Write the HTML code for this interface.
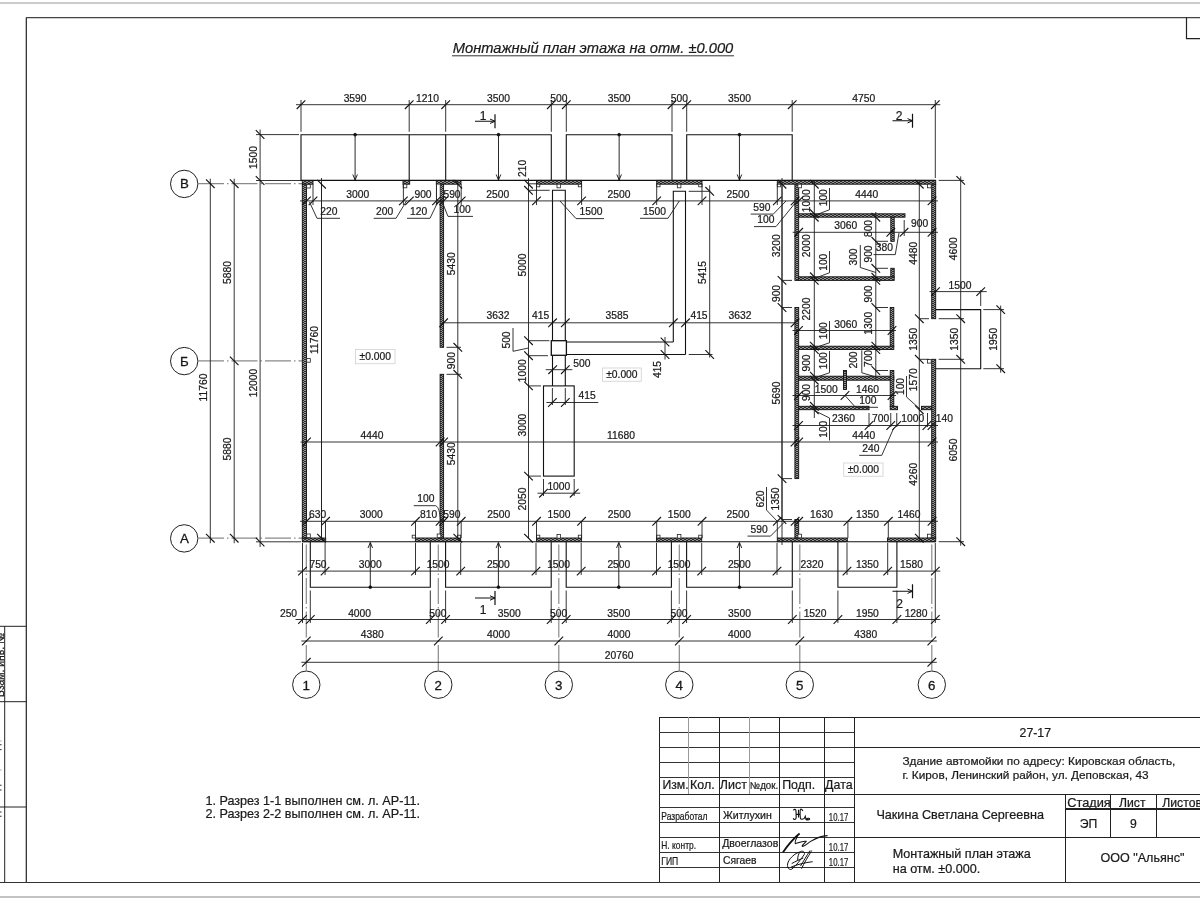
<!DOCTYPE html>
<html><head><meta charset="utf-8"><style>
html,body{margin:0;padding:0;background:#fff;}
svg{display:block;font-family:"Liberation Sans",sans-serif;will-change:transform;}
</style></head><body>
<svg width="1200" height="900" viewBox="0 0 1200 900">
<defs>
<pattern id="hat" width="4" height="2" patternUnits="userSpaceOnUse"><rect width="4" height="2" fill="#2a2a2a"/><rect x="0.5" y="0" width="1" height="1" fill="#fff"/><rect x="2.5" y="1" width="1" height="1" fill="#fff"/></pattern>
</defs>
<rect width="1200" height="900" fill="#fff"/>
<line x1="0.00" y1="3.00" x2="1200.00" y2="3.00" stroke="#999" stroke-width="1.2" />
<line x1="0.00" y1="897.00" x2="1200.00" y2="897.00" stroke="#888" stroke-width="1.1" />
<line x1="26.30" y1="17.70" x2="1200.00" y2="17.70" stroke="#444" stroke-width="1.3" />
<line x1="26.30" y1="17.50" x2="26.30" y2="882.50" stroke="#222" stroke-width="1.2" />
<line x1="0.00" y1="882.50" x2="1200.00" y2="882.50" stroke="#333" stroke-width="1.2" />
<polyline points="1186.50,17.50 1186.50,38.70 1200.00,38.70" stroke="#222" stroke-width="1.2" fill="none" />
<line x1="4.70" y1="626.30" x2="4.70" y2="882.50" stroke="#222" stroke-width="1" />
<line x1="0.00" y1="626.30" x2="26.30" y2="626.30" stroke="#222" stroke-width="1" />
<line x1="0.00" y1="701.70" x2="26.30" y2="701.70" stroke="#222" stroke-width="1" />
<line x1="0.00" y1="807.00" x2="26.30" y2="807.00" stroke="#222" stroke-width="1" />
<text x="4.30" y="697.00" font-size="10.5" fill="#1a1a1a" textLength="64.00" lengthAdjust="spacingAndGlyphs" transform="rotate(-90 4.30 697.00)" stroke="#1a1a1a" stroke-width="0.22">Взам. инв. №</text>
<rect x="0.00" y="740.40" width="1.60" height="1.20" stroke="none" stroke-width="0" fill="#bbb" />
<rect x="0.00" y="744.10" width="1.60" height="1.20" stroke="none" stroke-width="0" fill="#555" />
<rect x="0.00" y="749.00" width="1.60" height="1.20" stroke="none" stroke-width="0" fill="#555" />
<rect x="0.00" y="769.40" width="1.60" height="1.20" stroke="none" stroke-width="0" fill="#bbb" />
<rect x="0.00" y="784.70" width="1.60" height="1.20" stroke="none" stroke-width="0" fill="#555" />
<rect x="0.00" y="789.40" width="1.60" height="1.20" stroke="none" stroke-width="0" fill="#555" />
<rect x="0.00" y="811.40" width="1.60" height="1.20" stroke="none" stroke-width="0" fill="#555" />
<rect x="0.00" y="815.70" width="1.60" height="1.20" stroke="none" stroke-width="0" fill="#555" />
<g shape-rendering="crispEdges">
<line x1="659.10" y1="717.10" x2="1200.00" y2="717.10" stroke="#222" stroke-width="1.2" />
<line x1="659.10" y1="717.10" x2="659.10" y2="882.30" stroke="#222" stroke-width="1.2" />
<line x1="659.10" y1="732.20" x2="854.40" y2="732.20" stroke="#333" stroke-width="1.1" />
<line x1="659.10" y1="747.30" x2="854.40" y2="747.30" stroke="#333" stroke-width="1.1" />
<line x1="659.10" y1="762.40" x2="854.40" y2="762.40" stroke="#333" stroke-width="1.1" />
<line x1="659.10" y1="777.60" x2="854.40" y2="777.60" stroke="#333" stroke-width="1.1" />
<line x1="659.10" y1="794.30" x2="854.40" y2="794.30" stroke="#222" stroke-width="1.2" />
<line x1="659.10" y1="807.40" x2="854.40" y2="807.40" stroke="#333" stroke-width="1.1" />
<line x1="659.10" y1="822.20" x2="854.40" y2="822.20" stroke="#333" stroke-width="1.1" />
<line x1="659.10" y1="837.60" x2="854.40" y2="837.60" stroke="#333" stroke-width="1.1" />
<line x1="659.10" y1="852.40" x2="854.40" y2="852.40" stroke="#333" stroke-width="1.1" />
<line x1="659.10" y1="867.40" x2="854.40" y2="867.40" stroke="#333" stroke-width="1.1" />
<line x1="688.80" y1="717.10" x2="688.80" y2="794.30" stroke="#999" stroke-width="1.1" />
<line x1="749.70" y1="717.10" x2="749.70" y2="794.30" stroke="#999" stroke-width="1.1" />
<line x1="719.40" y1="717.10" x2="719.40" y2="882.30" stroke="#222" stroke-width="1.2" />
<line x1="779.60" y1="717.10" x2="779.60" y2="882.30" stroke="#222" stroke-width="1.2" />
<line x1="824.50" y1="717.10" x2="824.50" y2="882.30" stroke="#222" stroke-width="1.2" />
<line x1="854.40" y1="717.10" x2="854.40" y2="882.30" stroke="#222" stroke-width="1.2" />
<line x1="854.40" y1="747.30" x2="1200.00" y2="747.30" stroke="#222" stroke-width="1.2" />
<line x1="854.40" y1="794.30" x2="1200.00" y2="794.30" stroke="#222" stroke-width="1.2" />
<line x1="854.40" y1="837.60" x2="1200.00" y2="837.60" stroke="#222" stroke-width="1.2" />
<line x1="1065.60" y1="794.30" x2="1065.60" y2="882.30" stroke="#222" stroke-width="1.2" />
<line x1="1110.70" y1="794.30" x2="1110.70" y2="837.60" stroke="#222" stroke-width="1.2" />
<line x1="1156.20" y1="794.30" x2="1156.20" y2="837.60" stroke="#222" stroke-width="1.2" />
<line x1="1065.60" y1="809.00" x2="1200.00" y2="809.00" stroke="#222" stroke-width="1.2" />
</g>
<text x="662.40" y="789.10" font-size="12.2" fill="#1a1a1a" textLength="26.20" lengthAdjust="spacingAndGlyphs" stroke="#1a1a1a" stroke-width="0.22">Изм.</text>
<text x="690.00" y="789.10" font-size="12.2" fill="#1a1a1a" textLength="24.60" lengthAdjust="spacingAndGlyphs" stroke="#1a1a1a" stroke-width="0.22">Кол.</text>
<text x="719.80" y="789.10" font-size="12.2" fill="#1a1a1a" textLength="27.10" lengthAdjust="spacingAndGlyphs" stroke="#1a1a1a" stroke-width="0.22">Лист</text>
<text x="749.70" y="789.10" font-size="10" fill="#1a1a1a" textLength="28.60" lengthAdjust="spacingAndGlyphs" stroke="#1a1a1a" stroke-width="0.22">№док.</text>
<text x="782.20" y="789.10" font-size="12.2" fill="#1a1a1a" textLength="32.90" lengthAdjust="spacingAndGlyphs" stroke="#1a1a1a" stroke-width="0.22">Подп.</text>
<text x="825.10" y="789.10" font-size="12.2" fill="#1a1a1a" textLength="27.50" lengthAdjust="spacingAndGlyphs" stroke="#1a1a1a" stroke-width="0.22">Дата</text>
<text x="661.30" y="820.20" font-size="10.6" fill="#1a1a1a" textLength="46.10" lengthAdjust="spacingAndGlyphs" stroke="#1a1a1a" stroke-width="0.22">Разработал</text>
<text x="723.00" y="819.20" font-size="10.6" fill="#1a1a1a" textLength="48.80" lengthAdjust="spacingAndGlyphs" stroke="#1a1a1a" stroke-width="0.22">Житлухин</text>
<text x="828.80" y="820.70" font-size="11.2" fill="#1a1a1a" textLength="19.50" lengthAdjust="spacingAndGlyphs" stroke="#1a1a1a" stroke-width="0.22">10.17</text>
<text x="661.30" y="849.00" font-size="10.6" fill="#1a1a1a" textLength="34.70" lengthAdjust="spacingAndGlyphs" stroke="#1a1a1a" stroke-width="0.22">Н. контр.</text>
<text x="722.20" y="847.00" font-size="10.6" fill="#1a1a1a" textLength="56.10" lengthAdjust="spacingAndGlyphs" stroke="#1a1a1a" stroke-width="0.22">Двоеглазов</text>
<text x="828.80" y="850.60" font-size="11.2" fill="#1a1a1a" textLength="19.50" lengthAdjust="spacingAndGlyphs" stroke="#1a1a1a" stroke-width="0.22">10.17</text>
<text x="661.30" y="865.20" font-size="10.6" fill="#1a1a1a" textLength="16.90" lengthAdjust="spacingAndGlyphs" stroke="#1a1a1a" stroke-width="0.22">ГИП</text>
<text x="723.00" y="864.20" font-size="10.6" fill="#1a1a1a" textLength="33.60" lengthAdjust="spacingAndGlyphs" stroke="#1a1a1a" stroke-width="0.22">Сягаев</text>
<text x="828.80" y="865.60" font-size="11.2" fill="#1a1a1a" textLength="19.50" lengthAdjust="spacingAndGlyphs" stroke="#1a1a1a" stroke-width="0.22">10.17</text>
<text x="1035.30" y="736.80" font-size="12.3" fill="#1a1a1a" text-anchor="middle" stroke="#1a1a1a" stroke-width="0.22">27-17</text>
<text x="902.40" y="764.60" font-size="11.8" fill="#1a1a1a" textLength="273.00" lengthAdjust="spacingAndGlyphs" stroke="#1a1a1a" stroke-width="0.22">Здание автомойки по адресу: Кировская область,</text>
<text x="902.40" y="778.70" font-size="11.8" fill="#1a1a1a" stroke="#1a1a1a" stroke-width="0.22">г. Киров, Ленинский район, ул. Деповская, 43</text>
<text x="876.40" y="819.20" font-size="12.6" fill="#1a1a1a" textLength="167.60" lengthAdjust="spacingAndGlyphs" stroke="#1a1a1a" stroke-width="0.22">Чакина Светлана Сергеевна</text>
<text x="892.70" y="857.80" font-size="12.6" fill="#1a1a1a" stroke="#1a1a1a" stroke-width="0.22">Монтажный план этажа</text>
<text x="892.70" y="873.00" font-size="12.6" fill="#1a1a1a" stroke="#1a1a1a" stroke-width="0.22">на отм. ±0.000.</text>
<text x="1067.30" y="806.90" font-size="12.2" fill="#1a1a1a" textLength="43.40" lengthAdjust="spacingAndGlyphs" stroke="#1a1a1a" stroke-width="0.22">Стадия</text>
<text x="1119.00" y="806.90" font-size="12.2" fill="#1a1a1a" stroke="#1a1a1a" stroke-width="0.22">Лист</text>
<text x="1162.30" y="806.90" font-size="12.2" fill="#1a1a1a" stroke="#1a1a1a" stroke-width="0.22">Листов</text>
<text x="1088.60" y="827.50" font-size="12.2" fill="#1a1a1a" text-anchor="middle" stroke="#1a1a1a" stroke-width="0.22">ЭП</text>
<text x="1133.50" y="827.50" font-size="12.2" fill="#1a1a1a" text-anchor="middle" stroke="#1a1a1a" stroke-width="0.22">9</text>
<text x="1100.50" y="862.20" font-size="12.6" fill="#1a1a1a" textLength="83.90" lengthAdjust="spacingAndGlyphs" stroke="#1a1a1a" stroke-width="0.22">ООО &quot;Альянс&quot;</text>
<path d="M793.4,810.4 C794,809 795.8,809 796,810.8 L796.2,817.6 C796.2,819.6 794,820.2 793.2,818.2 M798.5,809.7 L798.5,817.4 M796.2,814.4 L800.6,814.4 M802.7,811.1 C802.8,809.5 801,808.8 800.4,809.4 C800,810 800.1,812 800.1,815.3 L800.4,818.1 C800.8,819.6 802.5,819.6 804.3,818.4 L805.3,816.3 L806,819.5 C807,820.2 809.8,820 809.6,818.8 C809.3,818 807,818.2 805.7,819.8" stroke="#111" stroke-width="1.1" fill="none"/>
<path d="M783,852.2 C788,845 794,838 799.6,833.5" stroke="#111" stroke-width="1.8" fill="none"/>
<path d="M797.5,836 C796,839 794.5,843 795.5,843.6 C797,843.5 803,840.5 806.1,841.4 C805,843 801,846 802.5,846.4 C805,846.5 808,842.5 812.7,840.3 C816,838.2 821,836.2 827.6,835.6" stroke="#111" stroke-width="1.1" fill="none"/>
<path d="M800.1,851.9 C795,853 788.5,859 787.6,864 C787,868.5 790,870.5 792,869 C796,866 801,859 804.3,854.5 C805,852 803,850.5 800.5,851.5 C798.5,853 797.5,857 797.7,860.5 M811.7,850.5 C808,857 804,863 801.5,868.7 M810,850.5 C806.5,856 803,862 800.5,866 M790.7,867.3 C797,864.5 805,862.5 812.7,861.7 M791.7,863.6 C795,861.5 800,859.5 803.3,858" stroke="#111" stroke-width="1" fill="none"/>
<text x="205.40" y="805.00" font-size="12.6" fill="#1a1a1a" textLength="214.60" lengthAdjust="spacingAndGlyphs" stroke="#1a1a1a" stroke-width="0.22">1. Разрез 1-1 выполнен см. л. АР-11.</text>
<text x="205.40" y="818.00" font-size="12.6" fill="#1a1a1a" textLength="214.60" lengthAdjust="spacingAndGlyphs" stroke="#1a1a1a" stroke-width="0.22">2. Разрез 2-2 выполнен см. л. АР-11.</text>
<text x="452.70" y="52.70" font-size="14.7" fill="#1a1a1a" textLength="280.60" lengthAdjust="spacingAndGlyphs" font-style="italic" stroke="#1a1a1a" stroke-width="0.2">Монтажный план этажа на отм. ±0.000</text>
<line x1="452.00" y1="55.80" x2="734.00" y2="55.80" stroke="#333" stroke-width="1" />
<circle cx="306.30" cy="684.70" r="13.70" stroke="#222" stroke-width="1.0" fill="#fff"/>
<text x="306.30" y="689.60" font-size="13.3" fill="#1a1a1a" text-anchor="middle" stroke="#111" stroke-width="0.3">1</text>
<line x1="306.30" y1="671.00" x2="306.30" y2="542.00" stroke="#8a8a8a" stroke-width="1.2" stroke-dasharray="26 3 1.5 3"/>
<circle cx="438.30" cy="684.70" r="13.70" stroke="#222" stroke-width="1.0" fill="#fff"/>
<text x="438.30" y="689.60" font-size="13.3" fill="#1a1a1a" text-anchor="middle" stroke="#111" stroke-width="0.3">2</text>
<line x1="438.30" y1="671.00" x2="438.30" y2="542.00" stroke="#8a8a8a" stroke-width="1.2" stroke-dasharray="26 3 1.5 3"/>
<circle cx="558.80" cy="684.70" r="13.70" stroke="#222" stroke-width="1.0" fill="#fff"/>
<text x="558.80" y="689.60" font-size="13.3" fill="#1a1a1a" text-anchor="middle" stroke="#111" stroke-width="0.3">3</text>
<line x1="558.80" y1="671.00" x2="558.80" y2="542.00" stroke="#8a8a8a" stroke-width="1.2" stroke-dasharray="26 3 1.5 3"/>
<circle cx="679.30" cy="684.70" r="13.70" stroke="#222" stroke-width="1.0" fill="#fff"/>
<text x="679.30" y="689.60" font-size="13.3" fill="#1a1a1a" text-anchor="middle" stroke="#111" stroke-width="0.3">4</text>
<line x1="679.30" y1="671.00" x2="679.30" y2="542.00" stroke="#8a8a8a" stroke-width="1.2" stroke-dasharray="26 3 1.5 3"/>
<circle cx="799.80" cy="684.70" r="13.70" stroke="#222" stroke-width="1.0" fill="#fff"/>
<text x="799.80" y="689.60" font-size="13.3" fill="#1a1a1a" text-anchor="middle" stroke="#111" stroke-width="0.3">5</text>
<line x1="799.80" y1="671.00" x2="799.80" y2="542.00" stroke="#8a8a8a" stroke-width="1.2" stroke-dasharray="26 3 1.5 3"/>
<circle cx="931.80" cy="684.70" r="13.70" stroke="#222" stroke-width="1.0" fill="#fff"/>
<text x="931.80" y="689.60" font-size="13.3" fill="#1a1a1a" text-anchor="middle" stroke="#111" stroke-width="0.3">6</text>
<line x1="931.80" y1="671.00" x2="931.80" y2="542.00" stroke="#8a8a8a" stroke-width="1.2" stroke-dasharray="26 3 1.5 3"/>
<circle cx="184.20" cy="183.90" r="13.70" stroke="#222" stroke-width="1.0" fill="#fff"/>
<text x="184.40" y="188.30" font-size="13.3" fill="#1a1a1a" text-anchor="middle" stroke="#111" stroke-width="0.3">В</text>
<line x1="198.00" y1="183.70" x2="302.00" y2="183.70" stroke="#8a8a8a" stroke-width="1.2" stroke-dasharray="26 3 1.5 3"/>
<circle cx="184.20" cy="361.10" r="13.70" stroke="#222" stroke-width="1.0" fill="#fff"/>
<text x="184.40" y="365.50" font-size="13.3" fill="#1a1a1a" text-anchor="middle" stroke="#111" stroke-width="0.3">Б</text>
<line x1="198.00" y1="360.90" x2="302.00" y2="360.90" stroke="#8a8a8a" stroke-width="1.2" stroke-dasharray="26 3 1.5 3"/>
<circle cx="184.20" cy="538.40" r="13.70" stroke="#222" stroke-width="1.0" fill="#fff"/>
<text x="184.40" y="542.80" font-size="13.3" fill="#1a1a1a" text-anchor="middle" stroke="#111" stroke-width="0.3">А</text>
<line x1="198.00" y1="538.20" x2="302.00" y2="538.20" stroke="#8a8a8a" stroke-width="1.2" stroke-dasharray="26 3 1.5 3"/>
<line x1="210.30" y1="178.70" x2="210.30" y2="543.20" stroke="#1e1e1e" stroke-width="0.9" />
<line x1="206.00" y1="179.40" x2="214.60" y2="188.00" stroke="#111" stroke-width="1.1" />
<line x1="206.00" y1="533.90" x2="214.60" y2="542.50" stroke="#111" stroke-width="1.1" />
<text x="207.46" y="387.50" font-size="10.3" fill="#1a1a1a" text-anchor="middle" transform="rotate(-90 207.46 387.50)" stroke="#1a1a1a" stroke-width="0.22">11760</text>
<line x1="234.20" y1="178.70" x2="234.20" y2="543.20" stroke="#1e1e1e" stroke-width="0.9" />
<line x1="229.90" y1="179.40" x2="238.50" y2="188.00" stroke="#111" stroke-width="1.1" />
<line x1="229.90" y1="356.60" x2="238.50" y2="365.20" stroke="#111" stroke-width="1.1" />
<line x1="229.90" y1="533.90" x2="238.50" y2="542.50" stroke="#111" stroke-width="1.1" />
<text x="231.21" y="272.50" font-size="10.3" fill="#1a1a1a" text-anchor="middle" transform="rotate(-90 231.21 272.50)" stroke="#1a1a1a" stroke-width="0.22">5880</text>
<text x="231.21" y="449.00" font-size="10.3" fill="#1a1a1a" text-anchor="middle" transform="rotate(-90 231.21 449.00)" stroke="#1a1a1a" stroke-width="0.22">5880</text>
<line x1="260.10" y1="129.50" x2="260.10" y2="547.00" stroke="#1e1e1e" stroke-width="0.9" />
<line x1="255.80" y1="130.20" x2="264.40" y2="138.80" stroke="#111" stroke-width="1.1" />
<line x1="255.80" y1="176.20" x2="264.40" y2="184.80" stroke="#111" stroke-width="1.1" />
<line x1="255.80" y1="537.70" x2="264.40" y2="546.30" stroke="#111" stroke-width="1.1" />
<text x="257.46" y="157.50" font-size="10.3" fill="#1a1a1a" text-anchor="middle" transform="rotate(-90 257.46 157.50)" stroke="#1a1a1a" stroke-width="0.22">1500</text>
<text x="256.91" y="383.00" font-size="10.3" fill="#1a1a1a" text-anchor="middle" transform="rotate(-90 256.91 383.00)" stroke="#1a1a1a" stroke-width="0.22">12000</text>
<line x1="256.00" y1="134.60" x2="299.00" y2="134.60" stroke="#1e1e1e" stroke-width="0.9" />
<line x1="256.00" y1="180.50" x2="301.00" y2="180.50" stroke="#1e1e1e" stroke-width="0.9" />
<line x1="256.00" y1="541.80" x2="301.00" y2="541.80" stroke="#1e1e1e" stroke-width="0.9" />
<line x1="296.00" y1="104.70" x2="940.30" y2="104.70" stroke="#1e1e1e" stroke-width="0.9" />
<line x1="296.70" y1="109.00" x2="305.30" y2="100.40" stroke="#111" stroke-width="1.1" />
<line x1="404.90" y1="109.00" x2="413.50" y2="100.40" stroke="#111" stroke-width="1.1" />
<line x1="441.40" y1="109.00" x2="450.00" y2="100.40" stroke="#111" stroke-width="1.1" />
<line x1="547.00" y1="109.00" x2="555.60" y2="100.40" stroke="#111" stroke-width="1.1" />
<line x1="562.00" y1="109.00" x2="570.60" y2="100.40" stroke="#111" stroke-width="1.1" />
<line x1="667.70" y1="109.00" x2="676.30" y2="100.40" stroke="#111" stroke-width="1.1" />
<line x1="682.40" y1="109.00" x2="691.00" y2="100.40" stroke="#111" stroke-width="1.1" />
<line x1="787.90" y1="109.00" x2="796.50" y2="100.40" stroke="#111" stroke-width="1.1" />
<line x1="931.00" y1="109.00" x2="939.60" y2="100.40" stroke="#111" stroke-width="1.1" />
<text x="355.10" y="101.70" font-size="10.3" fill="#1a1a1a" text-anchor="middle" stroke="#1a1a1a" stroke-width="0.22">3590</text>
<text x="427.45" y="101.70" font-size="10.3" fill="#1a1a1a" text-anchor="middle" stroke="#1a1a1a" stroke-width="0.22">1210</text>
<text x="498.50" y="101.70" font-size="10.3" fill="#1a1a1a" text-anchor="middle" stroke="#1a1a1a" stroke-width="0.22">3500</text>
<text x="558.80" y="101.70" font-size="10.3" fill="#1a1a1a" text-anchor="middle" stroke="#1a1a1a" stroke-width="0.22">500</text>
<text x="619.15" y="101.70" font-size="10.3" fill="#1a1a1a" text-anchor="middle" stroke="#1a1a1a" stroke-width="0.22">3500</text>
<text x="679.35" y="101.70" font-size="10.3" fill="#1a1a1a" text-anchor="middle" stroke="#1a1a1a" stroke-width="0.22">500</text>
<text x="739.45" y="101.70" font-size="10.3" fill="#1a1a1a" text-anchor="middle" stroke="#1a1a1a" stroke-width="0.22">3500</text>
<text x="863.75" y="101.70" font-size="10.3" fill="#1a1a1a" text-anchor="middle" stroke="#1a1a1a" stroke-width="0.22">4750</text>
<line x1="301.00" y1="100.00" x2="301.00" y2="131.80" stroke="#1e1e1e" stroke-width="0.9" />
<line x1="409.20" y1="100.00" x2="409.20" y2="131.80" stroke="#1e1e1e" stroke-width="0.9" />
<line x1="445.70" y1="100.00" x2="445.70" y2="131.80" stroke="#1e1e1e" stroke-width="0.9" />
<line x1="551.30" y1="100.00" x2="551.30" y2="131.80" stroke="#1e1e1e" stroke-width="0.9" />
<line x1="566.30" y1="100.00" x2="566.30" y2="131.80" stroke="#1e1e1e" stroke-width="0.9" />
<line x1="672.00" y1="100.00" x2="672.00" y2="131.80" stroke="#1e1e1e" stroke-width="0.9" />
<line x1="686.70" y1="100.00" x2="686.70" y2="131.80" stroke="#1e1e1e" stroke-width="0.9" />
<line x1="792.20" y1="100.00" x2="792.20" y2="131.80" stroke="#1e1e1e" stroke-width="0.9" />
<line x1="935.30" y1="100.00" x2="935.30" y2="178.00" stroke="#1e1e1e" stroke-width="0.9" />
<polyline points="301.00,180.40 301.00,134.70 409.20,134.70 409.20,180.40" stroke="#111" stroke-width="1.1" fill="none" />
<circle cx="355.10" cy="134.70" r="1.40" stroke="#111" stroke-width="0.8" fill="#111"/>
<line x1="355.10" y1="134.70" x2="355.10" y2="180.00" stroke="#111" stroke-width="0.9" />
<polyline points="352.80,174.50 355.10,180.00 357.40,174.50" stroke="#111" stroke-width="0.9" fill="none" />
<polyline points="445.70,180.40 445.70,134.70 551.30,134.70 551.30,180.40" stroke="#111" stroke-width="1.1" fill="none" />
<circle cx="498.50" cy="134.70" r="1.40" stroke="#111" stroke-width="0.8" fill="#111"/>
<line x1="498.50" y1="134.70" x2="498.50" y2="180.00" stroke="#111" stroke-width="0.9" />
<polyline points="496.20,174.50 498.50,180.00 500.80,174.50" stroke="#111" stroke-width="0.9" fill="none" />
<polyline points="566.30,180.40 566.30,134.70 672.00,134.70 672.00,180.40" stroke="#111" stroke-width="1.1" fill="none" />
<circle cx="619.15" cy="134.70" r="1.40" stroke="#111" stroke-width="0.8" fill="#111"/>
<line x1="619.15" y1="134.70" x2="619.15" y2="180.00" stroke="#111" stroke-width="0.9" />
<polyline points="616.85,174.50 619.15,180.00 621.45,174.50" stroke="#111" stroke-width="0.9" fill="none" />
<polyline points="686.70,180.40 686.70,134.70 792.20,134.70 792.20,180.40" stroke="#111" stroke-width="1.1" fill="none" />
<circle cx="739.45" cy="134.70" r="1.40" stroke="#111" stroke-width="0.8" fill="#111"/>
<line x1="739.45" y1="134.70" x2="739.45" y2="180.00" stroke="#111" stroke-width="0.9" />
<polyline points="737.15,174.50 739.45,180.00 741.75,174.50" stroke="#111" stroke-width="0.9" fill="none" />
<line x1="301.00" y1="180.40" x2="935.70" y2="180.40" stroke="#111" stroke-width="1.1" />
<line x1="409.20" y1="134.70" x2="445.70" y2="134.70" stroke="#111" stroke-width="1.1" />
<line x1="475.00" y1="121.25" x2="495.00" y2="121.25" stroke="#111" stroke-width="1" />
<polyline points="490.00,119.05 495.00,121.25 490.00,123.45" stroke="#111" stroke-width="1" fill="none" />
<line x1="495.00" y1="114.25" x2="495.00" y2="128.25" stroke="#111" stroke-width="1.2" />
<text x="483.00" y="120.00" font-size="12" fill="#1a1a1a" text-anchor="middle" stroke="#1a1a1a" stroke-width="0.22">1</text>
<line x1="892.50" y1="120.75" x2="912.50" y2="120.75" stroke="#111" stroke-width="1" />
<polyline points="907.50,118.55 912.50,120.75 907.50,122.95" stroke="#111" stroke-width="1" fill="none" />
<line x1="912.50" y1="113.75" x2="912.50" y2="127.75" stroke="#111" stroke-width="1.2" />
<text x="899.00" y="119.80" font-size="12" fill="#1a1a1a" text-anchor="middle" stroke="#1a1a1a" stroke-width="0.22">2</text>
<line x1="475.00" y1="598.00" x2="495.00" y2="598.00" stroke="#111" stroke-width="1" />
<polyline points="490.00,595.80 495.00,598.00 490.00,600.20" stroke="#111" stroke-width="1" fill="none" />
<line x1="495.00" y1="591.00" x2="495.00" y2="605.00" stroke="#111" stroke-width="1.2" />
<text x="483.00" y="614.00" font-size="12" fill="#1a1a1a" text-anchor="middle" stroke="#1a1a1a" stroke-width="0.22">1</text>
<line x1="892.50" y1="591.25" x2="912.50" y2="591.25" stroke="#111" stroke-width="1" />
<polyline points="907.50,589.05 912.50,591.25 907.50,593.45" stroke="#111" stroke-width="1" fill="none" />
<line x1="912.50" y1="584.25" x2="912.50" y2="598.25" stroke="#111" stroke-width="1.2" />
<text x="899.50" y="607.50" font-size="12" fill="#1a1a1a" text-anchor="middle" stroke="#1a1a1a" stroke-width="0.22">2</text>
<polyline points="310.30,541.70 310.30,587.20 430.30,587.20 430.30,541.70" stroke="#111" stroke-width="1.1" fill="none" />
<line x1="310.30" y1="590.50" x2="310.30" y2="623.00" stroke="#1e1e1e" stroke-width="0.9" />
<line x1="430.30" y1="590.50" x2="430.30" y2="623.00" stroke="#1e1e1e" stroke-width="0.9" />
<circle cx="370.30" cy="587.20" r="1.40" stroke="#111" stroke-width="0.8" fill="#111"/>
<line x1="370.30" y1="587.20" x2="370.30" y2="542.50" stroke="#111" stroke-width="0.9" />
<polyline points="368.00,548.00 370.30,542.50 372.60,548.00" stroke="#111" stroke-width="0.9" fill="none" />
<polyline points="445.60,541.70 445.60,587.20 551.20,587.20 551.20,541.70" stroke="#111" stroke-width="1.1" fill="none" />
<line x1="445.60" y1="590.50" x2="445.60" y2="623.00" stroke="#1e1e1e" stroke-width="0.9" />
<line x1="551.20" y1="590.50" x2="551.20" y2="623.00" stroke="#1e1e1e" stroke-width="0.9" />
<circle cx="498.40" cy="587.20" r="1.40" stroke="#111" stroke-width="0.8" fill="#111"/>
<line x1="498.40" y1="587.20" x2="498.40" y2="542.50" stroke="#111" stroke-width="0.9" />
<polyline points="496.10,548.00 498.40,542.50 500.70,548.00" stroke="#111" stroke-width="0.9" fill="none" />
<polyline points="566.20,541.70 566.20,587.20 671.40,587.20 671.40,541.70" stroke="#111" stroke-width="1.1" fill="none" />
<line x1="566.20" y1="590.50" x2="566.20" y2="623.00" stroke="#1e1e1e" stroke-width="0.9" />
<line x1="671.40" y1="590.50" x2="671.40" y2="623.00" stroke="#1e1e1e" stroke-width="0.9" />
<circle cx="618.80" cy="587.20" r="1.40" stroke="#111" stroke-width="0.8" fill="#111"/>
<line x1="618.80" y1="587.20" x2="618.80" y2="542.50" stroke="#111" stroke-width="0.9" />
<polyline points="616.50,548.00 618.80,542.50 621.10,548.00" stroke="#111" stroke-width="0.9" fill="none" />
<polyline points="686.60,541.70 686.60,587.20 792.30,587.20 792.30,541.70" stroke="#111" stroke-width="1.1" fill="none" />
<line x1="686.60" y1="590.50" x2="686.60" y2="623.00" stroke="#1e1e1e" stroke-width="0.9" />
<line x1="792.30" y1="590.50" x2="792.30" y2="623.00" stroke="#1e1e1e" stroke-width="0.9" />
<circle cx="739.45" cy="587.20" r="1.40" stroke="#111" stroke-width="0.8" fill="#111"/>
<line x1="739.45" y1="587.20" x2="739.45" y2="542.50" stroke="#111" stroke-width="0.9" />
<polyline points="737.15,548.00 739.45,542.50 741.75,548.00" stroke="#111" stroke-width="0.9" fill="none" />
<polyline points="837.90,541.70 837.90,587.20 896.90,587.20 896.90,541.70" stroke="#111" stroke-width="1.1" fill="none" />
<line x1="837.90" y1="590.50" x2="837.90" y2="623.00" stroke="#1e1e1e" stroke-width="0.9" />
<line x1="896.90" y1="590.50" x2="896.90" y2="623.00" stroke="#1e1e1e" stroke-width="0.9" />
<line x1="302.30" y1="541.80" x2="935.70" y2="541.80" stroke="#111" stroke-width="1.1" />
<line x1="297.50" y1="571.10" x2="940.30" y2="571.10" stroke="#1e1e1e" stroke-width="0.9" />
<line x1="298.20" y1="575.40" x2="306.80" y2="566.80" stroke="#111" stroke-width="1.1" />
<line x1="320.80" y1="575.40" x2="329.40" y2="566.80" stroke="#111" stroke-width="1.1" />
<line x1="411.20" y1="575.40" x2="419.80" y2="566.80" stroke="#111" stroke-width="1.1" />
<line x1="456.40" y1="575.40" x2="465.00" y2="566.80" stroke="#111" stroke-width="1.1" />
<line x1="531.70" y1="575.40" x2="540.30" y2="566.80" stroke="#111" stroke-width="1.1" />
<line x1="576.90" y1="575.40" x2="585.50" y2="566.80" stroke="#111" stroke-width="1.1" />
<line x1="652.20" y1="575.40" x2="660.80" y2="566.80" stroke="#111" stroke-width="1.1" />
<line x1="697.40" y1="575.40" x2="706.00" y2="566.80" stroke="#111" stroke-width="1.1" />
<line x1="772.70" y1="575.40" x2="781.30" y2="566.80" stroke="#111" stroke-width="1.1" />
<line x1="842.70" y1="575.40" x2="851.30" y2="566.80" stroke="#111" stroke-width="1.1" />
<line x1="883.40" y1="575.40" x2="892.00" y2="566.80" stroke="#111" stroke-width="1.1" />
<line x1="931.00" y1="575.40" x2="939.60" y2="566.80" stroke="#111" stroke-width="1.1" />
<text x="318.00" y="568.10" font-size="10.3" fill="#1a1a1a" text-anchor="middle" stroke="#1a1a1a" stroke-width="0.22">750</text>
<text x="370.30" y="568.10" font-size="10.3" fill="#1a1a1a" text-anchor="middle" stroke="#1a1a1a" stroke-width="0.22">3000</text>
<text x="438.10" y="568.10" font-size="10.3" fill="#1a1a1a" text-anchor="middle" stroke="#1a1a1a" stroke-width="0.22">1500</text>
<text x="498.35" y="568.10" font-size="10.3" fill="#1a1a1a" text-anchor="middle" stroke="#1a1a1a" stroke-width="0.22">2500</text>
<text x="558.60" y="568.10" font-size="10.3" fill="#1a1a1a" text-anchor="middle" stroke="#1a1a1a" stroke-width="0.22">1500</text>
<text x="618.85" y="568.10" font-size="10.3" fill="#1a1a1a" text-anchor="middle" stroke="#1a1a1a" stroke-width="0.22">2500</text>
<text x="679.10" y="568.10" font-size="10.3" fill="#1a1a1a" text-anchor="middle" stroke="#1a1a1a" stroke-width="0.22">1500</text>
<text x="739.35" y="568.10" font-size="10.3" fill="#1a1a1a" text-anchor="middle" stroke="#1a1a1a" stroke-width="0.22">2500</text>
<text x="812.00" y="568.10" font-size="10.3" fill="#1a1a1a" text-anchor="middle" stroke="#1a1a1a" stroke-width="0.22">2320</text>
<text x="867.35" y="568.10" font-size="10.3" fill="#1a1a1a" text-anchor="middle" stroke="#1a1a1a" stroke-width="0.22">1350</text>
<text x="911.50" y="568.10" font-size="10.3" fill="#1a1a1a" text-anchor="middle" stroke="#1a1a1a" stroke-width="0.22">1580</text>
<line x1="325.10" y1="543.00" x2="325.10" y2="575.00" stroke="#1e1e1e" stroke-width="0.9" />
<line x1="415.50" y1="543.00" x2="415.50" y2="575.00" stroke="#1e1e1e" stroke-width="0.9" />
<line x1="460.70" y1="543.00" x2="460.70" y2="575.00" stroke="#1e1e1e" stroke-width="0.9" />
<line x1="536.00" y1="543.00" x2="536.00" y2="575.00" stroke="#1e1e1e" stroke-width="0.9" />
<line x1="581.20" y1="543.00" x2="581.20" y2="575.00" stroke="#1e1e1e" stroke-width="0.9" />
<line x1="656.50" y1="543.00" x2="656.50" y2="575.00" stroke="#1e1e1e" stroke-width="0.9" />
<line x1="701.70" y1="543.00" x2="701.70" y2="575.00" stroke="#1e1e1e" stroke-width="0.9" />
<line x1="777.00" y1="543.00" x2="777.00" y2="575.00" stroke="#1e1e1e" stroke-width="0.9" />
<line x1="847.00" y1="543.00" x2="847.00" y2="575.00" stroke="#1e1e1e" stroke-width="0.9" />
<line x1="887.70" y1="543.00" x2="887.70" y2="575.00" stroke="#1e1e1e" stroke-width="0.9" />
<line x1="295.50" y1="619.50" x2="940.30" y2="619.50" stroke="#1e1e1e" stroke-width="0.9" />
<line x1="298.20" y1="623.80" x2="306.80" y2="615.20" stroke="#111" stroke-width="1.1" />
<line x1="306.00" y1="623.80" x2="314.60" y2="615.20" stroke="#111" stroke-width="1.1" />
<line x1="426.00" y1="623.80" x2="434.60" y2="615.20" stroke="#111" stroke-width="1.1" />
<line x1="441.30" y1="623.80" x2="449.90" y2="615.20" stroke="#111" stroke-width="1.1" />
<line x1="546.90" y1="623.80" x2="555.50" y2="615.20" stroke="#111" stroke-width="1.1" />
<line x1="561.90" y1="623.80" x2="570.50" y2="615.20" stroke="#111" stroke-width="1.1" />
<line x1="667.10" y1="623.80" x2="675.70" y2="615.20" stroke="#111" stroke-width="1.1" />
<line x1="682.30" y1="623.80" x2="690.90" y2="615.20" stroke="#111" stroke-width="1.1" />
<line x1="788.00" y1="623.80" x2="796.60" y2="615.20" stroke="#111" stroke-width="1.1" />
<line x1="833.60" y1="623.80" x2="842.20" y2="615.20" stroke="#111" stroke-width="1.1" />
<line x1="892.60" y1="623.80" x2="901.20" y2="615.20" stroke="#111" stroke-width="1.1" />
<line x1="931.00" y1="623.80" x2="939.60" y2="615.20" stroke="#111" stroke-width="1.1" />
<text x="288.50" y="616.50" font-size="10.3" fill="#1a1a1a" text-anchor="middle" stroke="#1a1a1a" stroke-width="0.22">250</text>
<text x="359.60" y="616.50" font-size="10.3" fill="#1a1a1a" text-anchor="middle" stroke="#1a1a1a" stroke-width="0.22">4000</text>
<text x="437.95" y="616.50" font-size="10.3" fill="#1a1a1a" text-anchor="middle" stroke="#1a1a1a" stroke-width="0.22">500</text>
<text x="509.20" y="616.50" font-size="10.3" fill="#1a1a1a" text-anchor="middle" stroke="#1a1a1a" stroke-width="0.22">3500</text>
<text x="558.70" y="616.50" font-size="10.3" fill="#1a1a1a" text-anchor="middle" stroke="#1a1a1a" stroke-width="0.22">500</text>
<text x="618.80" y="616.50" font-size="10.3" fill="#1a1a1a" text-anchor="middle" stroke="#1a1a1a" stroke-width="0.22">3500</text>
<text x="679.00" y="616.50" font-size="10.3" fill="#1a1a1a" text-anchor="middle" stroke="#1a1a1a" stroke-width="0.22">500</text>
<text x="739.45" y="616.50" font-size="10.3" fill="#1a1a1a" text-anchor="middle" stroke="#1a1a1a" stroke-width="0.22">3500</text>
<text x="815.10" y="616.50" font-size="10.3" fill="#1a1a1a" text-anchor="middle" stroke="#1a1a1a" stroke-width="0.22">1520</text>
<text x="867.40" y="616.50" font-size="10.3" fill="#1a1a1a" text-anchor="middle" stroke="#1a1a1a" stroke-width="0.22">1950</text>
<text x="916.10" y="616.50" font-size="10.3" fill="#1a1a1a" text-anchor="middle" stroke="#1a1a1a" stroke-width="0.22">1280</text>
<line x1="302.50" y1="543.00" x2="302.50" y2="623.00" stroke="#1e1e1e" stroke-width="0.9" />
<line x1="935.30" y1="543.00" x2="935.30" y2="623.00" stroke="#1e1e1e" stroke-width="0.9" />
<line x1="301.30" y1="641.00" x2="936.80" y2="641.00" stroke="#1e1e1e" stroke-width="0.9" />
<line x1="302.00" y1="645.30" x2="310.60" y2="636.70" stroke="#111" stroke-width="1.1" />
<line x1="434.00" y1="645.30" x2="442.60" y2="636.70" stroke="#111" stroke-width="1.1" />
<line x1="554.50" y1="645.30" x2="563.10" y2="636.70" stroke="#111" stroke-width="1.1" />
<line x1="675.00" y1="645.30" x2="683.60" y2="636.70" stroke="#111" stroke-width="1.1" />
<line x1="795.50" y1="645.30" x2="804.10" y2="636.70" stroke="#111" stroke-width="1.1" />
<line x1="927.50" y1="645.30" x2="936.10" y2="636.70" stroke="#111" stroke-width="1.1" />
<text x="372.30" y="638.00" font-size="10.3" fill="#1a1a1a" text-anchor="middle" stroke="#1a1a1a" stroke-width="0.22">4380</text>
<text x="498.55" y="638.00" font-size="10.3" fill="#1a1a1a" text-anchor="middle" stroke="#1a1a1a" stroke-width="0.22">4000</text>
<text x="619.05" y="638.00" font-size="10.3" fill="#1a1a1a" text-anchor="middle" stroke="#1a1a1a" stroke-width="0.22">4000</text>
<text x="739.55" y="638.00" font-size="10.3" fill="#1a1a1a" text-anchor="middle" stroke="#1a1a1a" stroke-width="0.22">4000</text>
<text x="865.80" y="638.00" font-size="10.3" fill="#1a1a1a" text-anchor="middle" stroke="#1a1a1a" stroke-width="0.22">4380</text>
<line x1="301.30" y1="662.30" x2="936.80" y2="662.30" stroke="#1e1e1e" stroke-width="0.9" />
<line x1="302.00" y1="666.60" x2="310.60" y2="658.00" stroke="#111" stroke-width="1.1" />
<line x1="927.50" y1="666.60" x2="936.10" y2="658.00" stroke="#111" stroke-width="1.1" />
<text x="619.05" y="659.30" font-size="10.3" fill="#1a1a1a" text-anchor="middle" stroke="#1a1a1a" stroke-width="0.22">20760</text>
<rect x="302.30" y="180.40" width="10.70" height="3.80" stroke="#111" stroke-width="0.9" fill="url(#hat)" />
<rect x="403.00" y="180.40" width="6.70" height="3.80" stroke="#111" stroke-width="0.9" fill="url(#hat)" />
<rect x="436.30" y="180.40" width="24.70" height="3.80" stroke="#111" stroke-width="0.9" fill="url(#hat)" />
<rect x="536.50" y="180.40" width="45.10" height="3.80" stroke="#111" stroke-width="0.9" fill="url(#hat)" />
<rect x="656.70" y="180.40" width="45.30" height="3.80" stroke="#111" stroke-width="0.9" fill="url(#hat)" />
<rect x="777.30" y="180.40" width="158.40" height="3.80" stroke="#111" stroke-width="0.9" fill="url(#hat)" />
<rect x="302.30" y="538.00" width="23.40" height="3.70" stroke="#111" stroke-width="0.9" fill="url(#hat)" />
<rect x="415.40" y="538.00" width="45.30" height="3.70" stroke="#111" stroke-width="0.9" fill="url(#hat)" />
<rect x="536.50" y="538.00" width="45.10" height="3.70" stroke="#111" stroke-width="0.9" fill="url(#hat)" />
<rect x="656.50" y="538.00" width="45.20" height="3.70" stroke="#111" stroke-width="0.9" fill="url(#hat)" />
<rect x="777.30" y="538.00" width="70.00" height="3.70" stroke="#111" stroke-width="0.9" fill="url(#hat)" />
<rect x="887.50" y="538.00" width="48.20" height="3.70" stroke="#111" stroke-width="0.9" fill="url(#hat)" />
<rect x="302.30" y="184.20" width="4.20" height="353.80" stroke="#111" stroke-width="0.9" fill="url(#hat)" />
<rect x="931.70" y="184.20" width="4.00" height="134.50" stroke="#111" stroke-width="0.9" fill="url(#hat)" />
<rect x="931.70" y="359.30" width="4.00" height="178.70" stroke="#111" stroke-width="0.9" fill="url(#hat)" />
<rect x="440.10" y="184.20" width="3.50" height="163.10" stroke="#111" stroke-width="0.9" fill="url(#hat)" />
<rect x="440.10" y="374.30" width="3.50" height="163.70" stroke="#111" stroke-width="0.9" fill="url(#hat)" />
<rect x="794.90" y="184.20" width="3.80" height="96.20" stroke="#111" stroke-width="0.9" fill="url(#hat)" />
<rect x="794.90" y="307.50" width="3.80" height="171.10" stroke="#111" stroke-width="0.9" fill="url(#hat)" />
<rect x="794.90" y="519.50" width="3.80" height="18.50" stroke="#111" stroke-width="0.9" fill="url(#hat)" />
<rect x="798.70" y="213.80" width="106.30" height="3.40" stroke="#111" stroke-width="0.9" fill="url(#hat)" />
<rect x="890.80" y="217.20" width="3.40" height="24.10" stroke="#111" stroke-width="0.9" fill="url(#hat)" />
<rect x="798.70" y="276.80" width="95.50" height="3.60" stroke="#111" stroke-width="0.9" fill="url(#hat)" />
<rect x="890.80" y="268.30" width="3.40" height="8.50" stroke="#111" stroke-width="0.9" fill="url(#hat)" />
<rect x="890.20" y="307.50" width="3.60" height="38.70" stroke="#111" stroke-width="0.9" fill="url(#hat)" />
<rect x="798.70" y="346.20" width="95.10" height="3.30" stroke="#111" stroke-width="0.9" fill="url(#hat)" />
<rect x="798.70" y="376.20" width="95.10" height="4.00" stroke="#111" stroke-width="0.9" fill="url(#hat)" />
<rect x="890.20" y="370.50" width="3.60" height="35.80" stroke="#111" stroke-width="0.9" fill="url(#hat)" />
<rect x="890.20" y="406.30" width="7.30" height="3.40" stroke="#111" stroke-width="0.9" fill="url(#hat)" />
<rect x="843.50" y="370.50" width="3.00" height="19.00" stroke="#111" stroke-width="0.9" fill="url(#hat)" />
<rect x="798.70" y="406.30" width="70.30" height="3.40" stroke="#111" stroke-width="0.9" fill="url(#hat)" />
<rect x="921.50" y="406.30" width="10.20" height="3.40" stroke="#111" stroke-width="0.9" fill="url(#hat)" />
<rect x="306.70" y="184.40" width="3.60" height="3.60" stroke="#222" stroke-width="0.8" fill="#fff" />
<rect x="403.20" y="184.20" width="3.60" height="3.60" stroke="#222" stroke-width="0.8" fill="#fff" />
<rect x="557.00" y="184.20" width="3.60" height="3.60" stroke="#222" stroke-width="0.8" fill="#fff" />
<rect x="677.30" y="184.20" width="3.60" height="3.60" stroke="#222" stroke-width="0.8" fill="#fff" />
<rect x="797.90" y="184.20" width="3.60" height="3.60" stroke="#222" stroke-width="0.8" fill="#fff" />
<rect x="927.60" y="184.20" width="3.60" height="3.60" stroke="#222" stroke-width="0.8" fill="#fff" />
<rect x="306.70" y="534.00" width="3.60" height="3.60" stroke="#222" stroke-width="0.8" fill="#fff" />
<rect x="437.20" y="534.00" width="3.60" height="3.60" stroke="#222" stroke-width="0.8" fill="#fff" />
<rect x="797.90" y="534.20" width="3.60" height="3.60" stroke="#222" stroke-width="0.8" fill="#fff" />
<rect x="927.60" y="534.20" width="3.60" height="3.60" stroke="#222" stroke-width="0.8" fill="#fff" />
<rect x="306.70" y="358.60" width="3.60" height="3.60" stroke="#222" stroke-width="0.8" fill="#fff" />
<rect x="927.60" y="359.50" width="3.60" height="3.60" stroke="#222" stroke-width="0.8" fill="#fff" />
<rect x="536.50" y="184.20" width="3.30" height="2.60" stroke="#222" stroke-width="0.8" fill="#fff" />
<rect x="578.30" y="184.20" width="3.30" height="2.60" stroke="#222" stroke-width="0.8" fill="#fff" />
<rect x="656.70" y="184.20" width="3.30" height="2.60" stroke="#222" stroke-width="0.8" fill="#fff" />
<rect x="698.70" y="184.20" width="3.30" height="2.60" stroke="#222" stroke-width="0.8" fill="#fff" />
<rect x="777.30" y="184.20" width="3.30" height="2.60" stroke="#222" stroke-width="0.8" fill="#fff" />
<rect x="536.50" y="535.20" width="3.30" height="2.80" stroke="#222" stroke-width="0.8" fill="#fff" />
<rect x="578.30" y="535.20" width="3.30" height="2.80" stroke="#222" stroke-width="0.8" fill="#fff" />
<rect x="656.70" y="535.20" width="3.30" height="2.80" stroke="#222" stroke-width="0.8" fill="#fff" />
<rect x="698.70" y="535.20" width="3.30" height="2.80" stroke="#222" stroke-width="0.8" fill="#fff" />
<rect x="412.20" y="535.20" width="3.30" height="2.80" stroke="#222" stroke-width="0.8" fill="#fff" />
<rect x="457.40" y="535.20" width="3.30" height="2.80" stroke="#222" stroke-width="0.8" fill="#fff" />
<rect x="557.00" y="534.60" width="3.60" height="3.60" stroke="#222" stroke-width="0.8" fill="#fff" />
<rect x="677.30" y="534.60" width="3.60" height="3.60" stroke="#222" stroke-width="0.8" fill="#fff" />
<rect x="436.30" y="184.20" width="3.80" height="16.00" stroke="#444" stroke-width="0.7" fill="#fff" />
<polyline points="935.70,309.60 980.70,309.60 980.70,368.70 935.70,368.70" stroke="#111" stroke-width="1.1" fill="none" />
<polyline points="552.50,340.70 552.50,190.20 565.30,190.20 565.30,340.70" stroke="#111" stroke-width="1.1" fill="none" />
<rect x="551.30" y="340.70" width="15.10" height="14.60" stroke="#111" stroke-width="1.3" fill="none" />
<line x1="552.50" y1="355.30" x2="552.50" y2="385.90" stroke="#111" stroke-width="1.1" />
<line x1="565.30" y1="355.30" x2="565.30" y2="385.90" stroke="#111" stroke-width="1.1" />
<rect x="543.50" y="385.90" width="30.70" height="90.20" stroke="#111" stroke-width="1.1" fill="none" />
<polyline points="673.30,342.00 673.30,191.30 685.50,191.30 685.50,354.50" stroke="#111" stroke-width="1.1" fill="none" />
<line x1="566.40" y1="342.00" x2="673.30" y2="342.00" stroke="#111" stroke-width="1.1" />
<line x1="566.40" y1="354.50" x2="685.50" y2="354.50" stroke="#111" stroke-width="1.1" />
<line x1="300.00" y1="200.90" x2="938.00" y2="200.90" stroke="#1e1e1e" stroke-width="0.9" />
<line x1="302.20" y1="205.20" x2="310.80" y2="196.60" stroke="#111" stroke-width="1.1" />
<line x1="308.70" y1="205.20" x2="317.30" y2="196.60" stroke="#111" stroke-width="1.1" />
<line x1="399.10" y1="205.20" x2="407.70" y2="196.60" stroke="#111" stroke-width="1.1" />
<line x1="405.10" y1="205.20" x2="413.70" y2="196.60" stroke="#111" stroke-width="1.1" />
<line x1="432.20" y1="205.20" x2="440.80" y2="196.60" stroke="#111" stroke-width="1.1" />
<line x1="435.80" y1="205.20" x2="444.40" y2="196.60" stroke="#111" stroke-width="1.1" />
<line x1="439.30" y1="205.20" x2="447.90" y2="196.60" stroke="#111" stroke-width="1.1" />
<line x1="456.90" y1="205.20" x2="465.50" y2="196.60" stroke="#111" stroke-width="1.1" />
<line x1="532.20" y1="205.20" x2="540.80" y2="196.60" stroke="#111" stroke-width="1.1" />
<line x1="577.30" y1="205.20" x2="585.90" y2="196.60" stroke="#111" stroke-width="1.1" />
<line x1="652.40" y1="205.20" x2="661.00" y2="196.60" stroke="#111" stroke-width="1.1" />
<line x1="697.70" y1="205.20" x2="706.30" y2="196.60" stroke="#111" stroke-width="1.1" />
<line x1="773.00" y1="205.20" x2="781.60" y2="196.60" stroke="#111" stroke-width="1.1" />
<line x1="790.80" y1="205.20" x2="799.40" y2="196.60" stroke="#111" stroke-width="1.1" />
<line x1="794.40" y1="205.20" x2="803.00" y2="196.60" stroke="#111" stroke-width="1.1" />
<line x1="927.70" y1="205.20" x2="936.30" y2="196.60" stroke="#111" stroke-width="1.1" />
<text x="357.70" y="197.50" font-size="10.3" fill="#1a1a1a" text-anchor="middle" stroke="#1a1a1a" stroke-width="0.22">3000</text>
<text x="423.00" y="197.50" font-size="10.3" fill="#1a1a1a" text-anchor="middle" stroke="#1a1a1a" stroke-width="0.22">900</text>
<text x="452.00" y="197.50" font-size="10.3" fill="#1a1a1a" text-anchor="middle" stroke="#1a1a1a" stroke-width="0.22">590</text>
<text x="497.80" y="197.50" font-size="10.3" fill="#1a1a1a" text-anchor="middle" stroke="#1a1a1a" stroke-width="0.22">2500</text>
<text x="619.00" y="197.50" font-size="10.3" fill="#1a1a1a" text-anchor="middle" stroke="#1a1a1a" stroke-width="0.22">2500</text>
<text x="738.00" y="197.50" font-size="10.3" fill="#1a1a1a" text-anchor="middle" stroke="#1a1a1a" stroke-width="0.22">2500</text>
<text x="866.75" y="197.50" font-size="10.3" fill="#1a1a1a" text-anchor="middle" stroke="#1a1a1a" stroke-width="0.22">4440</text>
<line x1="313.00" y1="184.20" x2="313.00" y2="205.00" stroke="#1e1e1e" stroke-width="0.9" />
<line x1="403.40" y1="184.20" x2="403.40" y2="205.00" stroke="#1e1e1e" stroke-width="0.9" />
<line x1="436.50" y1="184.20" x2="436.50" y2="205.00" stroke="#1e1e1e" stroke-width="0.9" />
<line x1="461.20" y1="184.20" x2="461.20" y2="205.00" stroke="#1e1e1e" stroke-width="0.9" />
<line x1="536.50" y1="184.20" x2="536.50" y2="205.00" stroke="#1e1e1e" stroke-width="0.9" />
<line x1="581.60" y1="184.20" x2="581.60" y2="205.00" stroke="#1e1e1e" stroke-width="0.9" />
<line x1="656.70" y1="184.20" x2="656.70" y2="205.00" stroke="#1e1e1e" stroke-width="0.9" />
<line x1="702.00" y1="184.20" x2="702.00" y2="205.00" stroke="#1e1e1e" stroke-width="0.9" />
<line x1="777.30" y1="184.20" x2="777.30" y2="205.00" stroke="#1e1e1e" stroke-width="0.9" />
<line x1="321.50" y1="178.00" x2="321.50" y2="538.20" stroke="#1e1e1e" stroke-width="0.9" />
<text x="320.30" y="214.70" font-size="10.3" fill="#1a1a1a" stroke="#1a1a1a" stroke-width="0.22">220</text>
<line x1="317.00" y1="218.30" x2="340.00" y2="218.30" stroke="#1e1e1e" stroke-width="0.9" />
<line x1="317.00" y1="218.30" x2="309.50" y2="202.00" stroke="#1e1e1e" stroke-width="0.9" />
<text x="376.00" y="214.70" font-size="10.3" fill="#1a1a1a" stroke="#1a1a1a" stroke-width="0.22">200</text>
<line x1="373.70" y1="218.30" x2="396.00" y2="218.30" stroke="#1e1e1e" stroke-width="0.9" />
<line x1="396.00" y1="218.30" x2="406.50" y2="201.00" stroke="#1e1e1e" stroke-width="0.9" />
<text x="410.00" y="214.70" font-size="10.3" fill="#1a1a1a" stroke="#1a1a1a" stroke-width="0.22">120</text>
<line x1="407.00" y1="218.30" x2="430.00" y2="218.30" stroke="#1e1e1e" stroke-width="0.9" />
<line x1="430.00" y1="218.30" x2="438.30" y2="201.00" stroke="#1e1e1e" stroke-width="0.9" />
<text x="453.50" y="212.80" font-size="10.3" fill="#1a1a1a" stroke="#1a1a1a" stroke-width="0.22">100</text>
<line x1="448.00" y1="216.40" x2="473.00" y2="216.40" stroke="#1e1e1e" stroke-width="0.9" />
<line x1="448.00" y1="216.40" x2="441.80" y2="201.00" stroke="#1e1e1e" stroke-width="0.9" />
<text x="579.50" y="215.00" font-size="10.3" fill="#1a1a1a" stroke="#1a1a1a" stroke-width="0.22">1500</text>
<line x1="576.00" y1="218.60" x2="604.00" y2="218.60" stroke="#1e1e1e" stroke-width="0.9" />
<line x1="576.00" y1="218.60" x2="560.00" y2="201.00" stroke="#1e1e1e" stroke-width="0.9" />
<text x="643.00" y="214.70" font-size="10.3" fill="#1a1a1a" stroke="#1a1a1a" stroke-width="0.22">1500</text>
<line x1="640.00" y1="218.30" x2="668.00" y2="218.30" stroke="#1e1e1e" stroke-width="0.9" />
<line x1="668.00" y1="218.30" x2="679.30" y2="201.00" stroke="#1e1e1e" stroke-width="0.9" />
<text x="753.30" y="210.50" font-size="10.3" fill="#1a1a1a" stroke="#1a1a1a" stroke-width="0.22">590</text>
<line x1="750.70" y1="214.10" x2="773.30" y2="214.10" stroke="#1e1e1e" stroke-width="0.9" />
<line x1="773.30" y1="214.10" x2="786.00" y2="201.00" stroke="#1e1e1e" stroke-width="0.9" />
<text x="757.30" y="223.00" font-size="10.3" fill="#1a1a1a" stroke="#1a1a1a" stroke-width="0.22">100</text>
<line x1="754.00" y1="226.60" x2="776.00" y2="226.60" stroke="#1e1e1e" stroke-width="0.9" />
<line x1="776.00" y1="226.60" x2="796.80" y2="201.00" stroke="#1e1e1e" stroke-width="0.9" />
<line x1="782.00" y1="178.00" x2="782.00" y2="545.00" stroke="#1e1e1e" stroke-width="0.9" />
<line x1="300.00" y1="521.30" x2="938.00" y2="521.30" stroke="#1e1e1e" stroke-width="0.9" />
<line x1="302.20" y1="525.60" x2="310.80" y2="517.00" stroke="#111" stroke-width="1.1" />
<line x1="321.20" y1="525.60" x2="329.80" y2="517.00" stroke="#111" stroke-width="1.1" />
<line x1="411.20" y1="525.60" x2="419.80" y2="517.00" stroke="#111" stroke-width="1.1" />
<line x1="435.80" y1="525.60" x2="444.40" y2="517.00" stroke="#111" stroke-width="1.1" />
<line x1="439.30" y1="525.60" x2="447.90" y2="517.00" stroke="#111" stroke-width="1.1" />
<line x1="456.90" y1="525.60" x2="465.50" y2="517.00" stroke="#111" stroke-width="1.1" />
<line x1="532.20" y1="525.60" x2="540.80" y2="517.00" stroke="#111" stroke-width="1.1" />
<line x1="577.30" y1="525.60" x2="585.90" y2="517.00" stroke="#111" stroke-width="1.1" />
<line x1="652.40" y1="525.60" x2="661.00" y2="517.00" stroke="#111" stroke-width="1.1" />
<line x1="697.70" y1="525.60" x2="706.30" y2="517.00" stroke="#111" stroke-width="1.1" />
<line x1="773.00" y1="525.60" x2="781.60" y2="517.00" stroke="#111" stroke-width="1.1" />
<line x1="790.80" y1="525.60" x2="799.40" y2="517.00" stroke="#111" stroke-width="1.1" />
<line x1="794.40" y1="525.60" x2="803.00" y2="517.00" stroke="#111" stroke-width="1.1" />
<line x1="843.60" y1="525.60" x2="852.20" y2="517.00" stroke="#111" stroke-width="1.1" />
<line x1="884.00" y1="525.60" x2="892.60" y2="517.00" stroke="#111" stroke-width="1.1" />
<line x1="927.70" y1="525.60" x2="936.30" y2="517.00" stroke="#111" stroke-width="1.1" />
<text x="317.60" y="517.70" font-size="10.3" fill="#1a1a1a" text-anchor="middle" stroke="#1a1a1a" stroke-width="0.22">630</text>
<text x="371.30" y="517.70" font-size="10.3" fill="#1a1a1a" text-anchor="middle" stroke="#1a1a1a" stroke-width="0.22">3000</text>
<text x="428.60" y="517.70" font-size="10.3" fill="#1a1a1a" text-anchor="middle" stroke="#1a1a1a" stroke-width="0.22">810</text>
<text x="451.80" y="517.70" font-size="10.3" fill="#1a1a1a" text-anchor="middle" stroke="#1a1a1a" stroke-width="0.22">590</text>
<text x="498.80" y="517.70" font-size="10.3" fill="#1a1a1a" text-anchor="middle" stroke="#1a1a1a" stroke-width="0.22">2500</text>
<text x="559.00" y="517.70" font-size="10.3" fill="#1a1a1a" text-anchor="middle" stroke="#1a1a1a" stroke-width="0.22">1500</text>
<text x="619.30" y="517.70" font-size="10.3" fill="#1a1a1a" text-anchor="middle" stroke="#1a1a1a" stroke-width="0.22">2500</text>
<text x="679.30" y="517.70" font-size="10.3" fill="#1a1a1a" text-anchor="middle" stroke="#1a1a1a" stroke-width="0.22">1500</text>
<text x="738.00" y="517.70" font-size="10.3" fill="#1a1a1a" text-anchor="middle" stroke="#1a1a1a" stroke-width="0.22">2500</text>
<text x="821.50" y="517.70" font-size="10.3" fill="#1a1a1a" text-anchor="middle" stroke="#1a1a1a" stroke-width="0.22">1630</text>
<text x="867.50" y="517.70" font-size="10.3" fill="#1a1a1a" text-anchor="middle" stroke="#1a1a1a" stroke-width="0.22">1350</text>
<text x="909.00" y="517.70" font-size="10.3" fill="#1a1a1a" text-anchor="middle" stroke="#1a1a1a" stroke-width="0.22">1460</text>
<line x1="325.50" y1="521.30" x2="325.50" y2="538.00" stroke="#1e1e1e" stroke-width="0.9" />
<line x1="415.50" y1="521.30" x2="415.50" y2="538.00" stroke="#1e1e1e" stroke-width="0.9" />
<line x1="461.20" y1="521.30" x2="461.20" y2="538.00" stroke="#1e1e1e" stroke-width="0.9" />
<line x1="536.50" y1="521.30" x2="536.50" y2="538.00" stroke="#1e1e1e" stroke-width="0.9" />
<line x1="581.60" y1="521.30" x2="581.60" y2="538.00" stroke="#1e1e1e" stroke-width="0.9" />
<line x1="656.70" y1="521.30" x2="656.70" y2="538.00" stroke="#1e1e1e" stroke-width="0.9" />
<line x1="702.00" y1="521.30" x2="702.00" y2="538.00" stroke="#1e1e1e" stroke-width="0.9" />
<line x1="777.30" y1="521.30" x2="777.30" y2="538.00" stroke="#1e1e1e" stroke-width="0.9" />
<line x1="847.90" y1="521.30" x2="847.90" y2="538.00" stroke="#1e1e1e" stroke-width="0.9" />
<line x1="888.30" y1="521.30" x2="888.30" y2="538.00" stroke="#1e1e1e" stroke-width="0.9" />
<path d="M413.7,505.7 L435.8,505.7 C438.5,507 440,512 440.5,521" stroke="#1e1e1e" stroke-width="0.9" fill="none"/>
<text x="417.20" y="502.20" font-size="10.3" fill="#1a1a1a" stroke="#1a1a1a" stroke-width="0.22">100</text>
<text x="750.50" y="532.50" font-size="10.3" fill="#1a1a1a" stroke="#1a1a1a" stroke-width="0.22">590</text>
<line x1="747.50" y1="536.10" x2="770.50" y2="536.10" stroke="#1e1e1e" stroke-width="0.9" />
<line x1="770.50" y1="536.10" x2="785.00" y2="521.50" stroke="#1e1e1e" stroke-width="0.9" />
<text x="763.71" y="499.00" font-size="10.3" fill="#1a1a1a" text-anchor="middle" transform="rotate(-90 763.71 499.00)" stroke="#1a1a1a" stroke-width="0.22">620</text>
<line x1="766.50" y1="487.00" x2="766.50" y2="510.00" stroke="#1e1e1e" stroke-width="0.9" />
<line x1="766.50" y1="510.00" x2="777.00" y2="521.00" stroke="#1e1e1e" stroke-width="0.9" />
<line x1="782.00" y1="519.50" x2="792.00" y2="519.50" stroke="#1e1e1e" stroke-width="0.9" />
<line x1="300.50" y1="442.00" x2="443.10" y2="442.00" stroke="#1e1e1e" stroke-width="0.9" />
<line x1="302.20" y1="446.30" x2="310.80" y2="437.70" stroke="#111" stroke-width="1.1" />
<line x1="435.80" y1="446.30" x2="444.40" y2="437.70" stroke="#111" stroke-width="1.1" />
<text x="372.00" y="439.00" font-size="10.3" fill="#1a1a1a" text-anchor="middle" stroke="#1a1a1a" stroke-width="0.22">4440</text>
<line x1="321.50" y1="184.20" x2="321.50" y2="538.20" stroke="#1e1e1e" stroke-width="0.9" />
<line x1="317.20" y1="179.90" x2="325.80" y2="188.50" stroke="#111" stroke-width="1.1" />
<line x1="317.20" y1="533.90" x2="325.80" y2="542.50" stroke="#111" stroke-width="1.1" />
<text x="318.21" y="340.00" font-size="10.3" fill="#1a1a1a" text-anchor="middle" transform="rotate(-90 318.21 340.00)" stroke="#1a1a1a" stroke-width="0.22">11760</text>
<line x1="457.80" y1="180.20" x2="457.80" y2="538.20" stroke="#1e1e1e" stroke-width="0.9" />
<line x1="453.50" y1="179.90" x2="462.10" y2="188.50" stroke="#111" stroke-width="1.1" />
<line x1="453.50" y1="343.00" x2="462.10" y2="351.60" stroke="#111" stroke-width="1.1" />
<line x1="453.50" y1="370.00" x2="462.10" y2="378.60" stroke="#111" stroke-width="1.1" />
<line x1="453.50" y1="533.90" x2="462.10" y2="542.50" stroke="#111" stroke-width="1.1" />
<text x="455.01" y="263.75" font-size="10.3" fill="#1a1a1a" text-anchor="middle" transform="rotate(-90 455.01 263.75)" stroke="#1a1a1a" stroke-width="0.22">5430</text>
<text x="455.01" y="360.70" font-size="10.3" fill="#1a1a1a" text-anchor="middle" transform="rotate(-90 455.01 360.70)" stroke="#1a1a1a" stroke-width="0.22">900</text>
<text x="455.01" y="453.75" font-size="10.3" fill="#1a1a1a" text-anchor="middle" transform="rotate(-90 455.01 453.75)" stroke="#1a1a1a" stroke-width="0.22">5430</text>
<line x1="446.50" y1="347.30" x2="461.00" y2="347.30" stroke="#1e1e1e" stroke-width="0.9" />
<line x1="446.50" y1="374.30" x2="461.00" y2="374.30" stroke="#1e1e1e" stroke-width="0.9" />
<line x1="443.60" y1="442.00" x2="795.00" y2="442.00" stroke="#1e1e1e" stroke-width="0.9" />
<line x1="439.30" y1="446.30" x2="447.90" y2="437.70" stroke="#111" stroke-width="1.1" />
<line x1="790.70" y1="446.30" x2="799.30" y2="437.70" stroke="#111" stroke-width="1.1" />
<text x="621.00" y="439.00" font-size="10.3" fill="#1a1a1a" text-anchor="middle" stroke="#1a1a1a" stroke-width="0.22">11680</text>
<line x1="443.60" y1="322.80" x2="795.00" y2="322.80" stroke="#1e1e1e" stroke-width="0.9" />
<line x1="439.30" y1="327.10" x2="447.90" y2="318.50" stroke="#111" stroke-width="1.1" />
<line x1="548.20" y1="327.10" x2="556.80" y2="318.50" stroke="#111" stroke-width="1.1" />
<line x1="561.00" y1="327.10" x2="569.60" y2="318.50" stroke="#111" stroke-width="1.1" />
<line x1="669.00" y1="327.10" x2="677.60" y2="318.50" stroke="#111" stroke-width="1.1" />
<line x1="681.20" y1="327.10" x2="689.80" y2="318.50" stroke="#111" stroke-width="1.1" />
<line x1="790.70" y1="327.10" x2="799.30" y2="318.50" stroke="#111" stroke-width="1.1" />
<text x="498.00" y="319.30" font-size="10.3" fill="#1a1a1a" text-anchor="middle" stroke="#1a1a1a" stroke-width="0.22">3632</text>
<text x="540.70" y="319.30" font-size="10.3" fill="#1a1a1a" text-anchor="middle" stroke="#1a1a1a" stroke-width="0.22">415</text>
<text x="617.00" y="319.30" font-size="10.3" fill="#1a1a1a" text-anchor="middle" stroke="#1a1a1a" stroke-width="0.22">3585</text>
<text x="699.00" y="319.30" font-size="10.3" fill="#1a1a1a" text-anchor="middle" stroke="#1a1a1a" stroke-width="0.22">415</text>
<text x="740.00" y="319.30" font-size="10.3" fill="#1a1a1a" text-anchor="middle" stroke="#1a1a1a" stroke-width="0.22">3632</text>
<line x1="528.50" y1="178.20" x2="528.50" y2="538.20" stroke="#1e1e1e" stroke-width="0.9" />
<line x1="524.20" y1="179.90" x2="532.80" y2="188.50" stroke="#111" stroke-width="1.1" />
<line x1="524.20" y1="186.00" x2="532.80" y2="194.60" stroke="#111" stroke-width="1.1" />
<line x1="524.20" y1="336.40" x2="532.80" y2="345.00" stroke="#111" stroke-width="1.1" />
<line x1="524.20" y1="351.40" x2="532.80" y2="360.00" stroke="#111" stroke-width="1.1" />
<line x1="524.20" y1="381.60" x2="532.80" y2="390.20" stroke="#111" stroke-width="1.1" />
<line x1="524.20" y1="471.80" x2="532.80" y2="480.40" stroke="#111" stroke-width="1.1" />
<line x1="524.20" y1="533.90" x2="532.80" y2="542.50" stroke="#111" stroke-width="1.1" />
<text x="525.81" y="168.40" font-size="10.3" fill="#1a1a1a" text-anchor="middle" transform="rotate(-90 525.81 168.40)" stroke="#1a1a1a" stroke-width="0.22">210</text>
<text x="526.21" y="265.00" font-size="10.3" fill="#1a1a1a" text-anchor="middle" transform="rotate(-90 526.21 265.00)" stroke="#1a1a1a" stroke-width="0.22">5000</text>
<text x="525.71" y="370.70" font-size="10.3" fill="#1a1a1a" text-anchor="middle" transform="rotate(-90 525.71 370.70)" stroke="#1a1a1a" stroke-width="0.22">1000</text>
<text x="525.51" y="425.10" font-size="10.3" fill="#1a1a1a" text-anchor="middle" transform="rotate(-90 525.51 425.10)" stroke="#1a1a1a" stroke-width="0.22">3000</text>
<text x="525.51" y="499.00" font-size="10.3" fill="#1a1a1a" text-anchor="middle" transform="rotate(-90 525.51 499.00)" stroke="#1a1a1a" stroke-width="0.22">2050</text>
<text x="509.71" y="340.00" font-size="10.3" fill="#1a1a1a" text-anchor="middle" transform="rotate(-90 509.71 340.00)" stroke="#1a1a1a" stroke-width="0.22">500</text>
<line x1="513.00" y1="328.00" x2="513.00" y2="351.30" stroke="#1e1e1e" stroke-width="0.9" />
<line x1="513.00" y1="351.30" x2="528.50" y2="348.00" stroke="#1e1e1e" stroke-width="0.9" />
<line x1="528.50" y1="190.30" x2="549.70" y2="190.30" stroke="#1e1e1e" stroke-width="0.9" />
<line x1="528.50" y1="183.80" x2="536.00" y2="183.80" stroke="#1e1e1e" stroke-width="0.9" />
<line x1="528.50" y1="340.70" x2="549.30" y2="340.70" stroke="#1e1e1e" stroke-width="0.9" />
<line x1="528.50" y1="355.70" x2="548.00" y2="355.70" stroke="#1e1e1e" stroke-width="0.9" />
<line x1="528.50" y1="385.90" x2="541.00" y2="385.90" stroke="#1e1e1e" stroke-width="0.9" />
<line x1="528.50" y1="476.10" x2="541.00" y2="476.10" stroke="#1e1e1e" stroke-width="0.9" />
<line x1="545.70" y1="369.70" x2="572.30" y2="369.70" stroke="#1e1e1e" stroke-width="0.9" />
<line x1="548.40" y1="374.00" x2="557.00" y2="365.40" stroke="#111" stroke-width="1.1" />
<line x1="561.00" y1="374.00" x2="569.60" y2="365.40" stroke="#111" stroke-width="1.1" />
<text x="573.30" y="366.70" font-size="10.3" fill="#1a1a1a" stroke="#1a1a1a" stroke-width="0.22">500</text>
<line x1="546.40" y1="402.50" x2="598.30" y2="402.50" stroke="#1e1e1e" stroke-width="0.9" />
<line x1="548.10" y1="406.80" x2="556.70" y2="398.20" stroke="#111" stroke-width="1.1" />
<line x1="561.00" y1="406.80" x2="569.60" y2="398.20" stroke="#111" stroke-width="1.1" />
<text x="578.50" y="399.40" font-size="10.3" fill="#1a1a1a" stroke="#1a1a1a" stroke-width="0.22">415</text>
<line x1="552.40" y1="388.00" x2="552.40" y2="405.00" stroke="#1e1e1e" stroke-width="0.9" />
<line x1="565.30" y1="388.00" x2="565.30" y2="405.00" stroke="#1e1e1e" stroke-width="0.9" />
<line x1="537.50" y1="493.20" x2="580.20" y2="493.20" stroke="#1e1e1e" stroke-width="0.9" />
<line x1="539.20" y1="497.50" x2="547.80" y2="488.90" stroke="#111" stroke-width="1.1" />
<line x1="569.90" y1="497.50" x2="578.50" y2="488.90" stroke="#111" stroke-width="1.1" />
<text x="558.85" y="490.20" font-size="10.3" fill="#1a1a1a" text-anchor="middle" stroke="#1a1a1a" stroke-width="0.22">1000</text>
<line x1="543.50" y1="479.00" x2="543.50" y2="496.00" stroke="#1e1e1e" stroke-width="0.9" />
<line x1="574.20" y1="479.00" x2="574.20" y2="496.00" stroke="#1e1e1e" stroke-width="0.9" />
<line x1="665.00" y1="337.00" x2="665.00" y2="359.50" stroke="#1e1e1e" stroke-width="0.9" />
<line x1="660.70" y1="337.70" x2="669.30" y2="346.30" stroke="#111" stroke-width="1.1" />
<line x1="660.70" y1="350.20" x2="669.30" y2="358.80" stroke="#111" stroke-width="1.1" />
<text x="661.21" y="369.50" font-size="10.3" fill="#1a1a1a" text-anchor="middle" transform="rotate(-90 661.21 369.50)" stroke="#1a1a1a" stroke-width="0.22">415</text>
<line x1="709.70" y1="185.30" x2="709.70" y2="357.50" stroke="#1e1e1e" stroke-width="0.9" />
<line x1="705.40" y1="187.00" x2="714.00" y2="195.60" stroke="#111" stroke-width="1.1" />
<line x1="705.40" y1="350.20" x2="714.00" y2="358.80" stroke="#111" stroke-width="1.1" />
<text x="706.10" y="272.50" font-size="10.3" fill="#1a1a1a" text-anchor="middle" transform="rotate(-90 706.10 272.50)" stroke="#1a1a1a" stroke-width="0.22">5415</text>
<line x1="688.70" y1="191.30" x2="709.70" y2="191.30" stroke="#1e1e1e" stroke-width="0.9" />
<line x1="688.70" y1="354.50" x2="712.50" y2="354.50" stroke="#1e1e1e" stroke-width="0.9" />
<line x1="782.00" y1="184.20" x2="782.00" y2="519.50" stroke="#1e1e1e" stroke-width="0.9" />
<line x1="777.70" y1="179.90" x2="786.30" y2="188.50" stroke="#111" stroke-width="1.1" />
<line x1="777.70" y1="276.10" x2="786.30" y2="284.70" stroke="#111" stroke-width="1.1" />
<line x1="777.70" y1="303.20" x2="786.30" y2="311.80" stroke="#111" stroke-width="1.1" />
<line x1="777.70" y1="474.30" x2="786.30" y2="482.90" stroke="#111" stroke-width="1.1" />
<line x1="777.70" y1="515.20" x2="786.30" y2="523.80" stroke="#111" stroke-width="1.1" />
<text x="779.71" y="245.80" font-size="10.3" fill="#1a1a1a" text-anchor="middle" transform="rotate(-90 779.71 245.80)" stroke="#1a1a1a" stroke-width="0.22">3200</text>
<text x="779.71" y="293.50" font-size="10.3" fill="#1a1a1a" text-anchor="middle" transform="rotate(-90 779.71 293.50)" stroke="#1a1a1a" stroke-width="0.22">900</text>
<text x="779.71" y="393.00" font-size="10.3" fill="#1a1a1a" text-anchor="middle" transform="rotate(-90 779.71 393.00)" stroke="#1a1a1a" stroke-width="0.22">5690</text>
<text x="779.21" y="499.00" font-size="10.3" fill="#1a1a1a" text-anchor="middle" transform="rotate(-90 779.21 499.00)" stroke="#1a1a1a" stroke-width="0.22">1350</text>
<line x1="782.00" y1="280.40" x2="792.00" y2="280.40" stroke="#1e1e1e" stroke-width="0.9" />
<line x1="782.00" y1="307.50" x2="792.00" y2="307.50" stroke="#1e1e1e" stroke-width="0.9" />
<line x1="782.00" y1="478.60" x2="792.00" y2="478.60" stroke="#1e1e1e" stroke-width="0.9" />
<line x1="814.30" y1="180.00" x2="814.30" y2="418.00" stroke="#1e1e1e" stroke-width="0.9" />
<line x1="810.00" y1="179.90" x2="818.60" y2="188.50" stroke="#111" stroke-width="1.1" />
<line x1="810.00" y1="209.50" x2="818.60" y2="218.10" stroke="#111" stroke-width="1.1" />
<line x1="810.00" y1="212.90" x2="818.60" y2="221.50" stroke="#111" stroke-width="1.1" />
<line x1="810.00" y1="272.50" x2="818.60" y2="281.10" stroke="#111" stroke-width="1.1" />
<line x1="810.00" y1="276.10" x2="818.60" y2="284.70" stroke="#111" stroke-width="1.1" />
<line x1="810.00" y1="341.90" x2="818.60" y2="350.50" stroke="#111" stroke-width="1.1" />
<line x1="810.00" y1="345.20" x2="818.60" y2="353.80" stroke="#111" stroke-width="1.1" />
<line x1="810.00" y1="371.90" x2="818.60" y2="380.50" stroke="#111" stroke-width="1.1" />
<line x1="810.00" y1="375.90" x2="818.60" y2="384.50" stroke="#111" stroke-width="1.1" />
<line x1="810.00" y1="402.00" x2="818.60" y2="410.60" stroke="#111" stroke-width="1.1" />
<line x1="810.00" y1="405.40" x2="818.60" y2="414.00" stroke="#111" stroke-width="1.1" />
<text x="810.46" y="200.75" font-size="10.3" fill="#1a1a1a" text-anchor="middle" transform="rotate(-90 810.46 200.75)" stroke="#1a1a1a" stroke-width="0.22">1000</text>
<text x="810.46" y="245.75" font-size="10.3" fill="#1a1a1a" text-anchor="middle" transform="rotate(-90 810.46 245.75)" stroke="#1a1a1a" stroke-width="0.22">2000</text>
<text x="810.46" y="309.00" font-size="10.3" fill="#1a1a1a" text-anchor="middle" transform="rotate(-90 810.46 309.00)" stroke="#1a1a1a" stroke-width="0.22">2200</text>
<text x="810.46" y="363.00" font-size="10.3" fill="#1a1a1a" text-anchor="middle" transform="rotate(-90 810.46 363.00)" stroke="#1a1a1a" stroke-width="0.22">900</text>
<text x="810.46" y="392.50" font-size="10.3" fill="#1a1a1a" text-anchor="middle" transform="rotate(-90 810.46 392.50)" stroke="#1a1a1a" stroke-width="0.22">900</text>
<text x="826.96" y="197.75" font-size="10.3" fill="#1a1a1a" text-anchor="middle" transform="rotate(-90 826.96 197.75)" stroke="#1a1a1a" stroke-width="0.22">100</text>
<line x1="829.50" y1="188.00" x2="829.50" y2="209.75" stroke="#1e1e1e" stroke-width="0.9" />
<line x1="829.50" y1="209.75" x2="814.30" y2="215.50" stroke="#1e1e1e" stroke-width="0.9" />
<text x="826.96" y="262.25" font-size="10.3" fill="#1a1a1a" text-anchor="middle" transform="rotate(-90 826.96 262.25)" stroke="#1a1a1a" stroke-width="0.22">100</text>
<line x1="829.50" y1="251.00" x2="829.50" y2="272.75" stroke="#1e1e1e" stroke-width="0.9" />
<line x1="829.50" y1="272.75" x2="814.30" y2="278.50" stroke="#1e1e1e" stroke-width="0.9" />
<text x="826.96" y="330.75" font-size="10.3" fill="#1a1a1a" text-anchor="middle" transform="rotate(-90 826.96 330.75)" stroke="#1a1a1a" stroke-width="0.22">100</text>
<line x1="829.50" y1="321.00" x2="829.50" y2="342.75" stroke="#1e1e1e" stroke-width="0.9" />
<line x1="829.50" y1="342.75" x2="814.30" y2="348.00" stroke="#1e1e1e" stroke-width="0.9" />
<text x="826.96" y="360.75" font-size="10.3" fill="#1a1a1a" text-anchor="middle" transform="rotate(-90 826.96 360.75)" stroke="#1a1a1a" stroke-width="0.22">100</text>
<line x1="829.50" y1="351.00" x2="829.50" y2="372.75" stroke="#1e1e1e" stroke-width="0.9" />
<line x1="829.50" y1="372.75" x2="814.30" y2="378.00" stroke="#1e1e1e" stroke-width="0.9" />
<text x="826.96" y="429.25" font-size="10.3" fill="#1a1a1a" text-anchor="middle" transform="rotate(-90 826.96 429.25)" stroke="#1a1a1a" stroke-width="0.22">100</text>
<line x1="829.50" y1="440.50" x2="829.50" y2="418.00" stroke="#1e1e1e" stroke-width="0.9" />
<line x1="829.50" y1="418.00" x2="814.30" y2="410.50" stroke="#1e1e1e" stroke-width="0.9" />
<line x1="875.80" y1="212.00" x2="875.80" y2="380.00" stroke="#1e1e1e" stroke-width="0.9" />
<line x1="871.50" y1="212.90" x2="880.10" y2="221.50" stroke="#111" stroke-width="1.1" />
<line x1="871.50" y1="237.00" x2="880.10" y2="245.60" stroke="#111" stroke-width="1.1" />
<line x1="871.50" y1="264.00" x2="880.10" y2="272.60" stroke="#111" stroke-width="1.1" />
<line x1="871.50" y1="273.00" x2="880.10" y2="281.60" stroke="#111" stroke-width="1.1" />
<line x1="871.50" y1="276.10" x2="880.10" y2="284.70" stroke="#111" stroke-width="1.1" />
<line x1="871.50" y1="303.20" x2="880.10" y2="311.80" stroke="#111" stroke-width="1.1" />
<line x1="871.50" y1="341.90" x2="880.10" y2="350.50" stroke="#111" stroke-width="1.1" />
<line x1="871.50" y1="345.20" x2="880.10" y2="353.80" stroke="#111" stroke-width="1.1" />
<line x1="871.50" y1="366.20" x2="880.10" y2="374.80" stroke="#111" stroke-width="1.1" />
<text x="871.96" y="228.50" font-size="10.3" fill="#1a1a1a" text-anchor="middle" transform="rotate(-90 871.96 228.50)" stroke="#1a1a1a" stroke-width="0.22">800</text>
<text x="871.96" y="254.00" font-size="10.3" fill="#1a1a1a" text-anchor="middle" transform="rotate(-90 871.96 254.00)" stroke="#1a1a1a" stroke-width="0.22">900</text>
<text x="871.96" y="294.00" font-size="10.3" fill="#1a1a1a" text-anchor="middle" transform="rotate(-90 871.96 294.00)" stroke="#1a1a1a" stroke-width="0.22">900</text>
<text x="871.96" y="323.25" font-size="10.3" fill="#1a1a1a" text-anchor="middle" transform="rotate(-90 871.96 323.25)" stroke="#1a1a1a" stroke-width="0.22">1300</text>
<text x="871.96" y="358.50" font-size="10.3" fill="#1a1a1a" text-anchor="middle" transform="rotate(-90 871.96 358.50)" stroke="#1a1a1a" stroke-width="0.22">700</text>
<text x="856.96" y="257.00" font-size="10.3" fill="#1a1a1a" text-anchor="middle" transform="rotate(-90 856.96 257.00)" stroke="#1a1a1a" stroke-width="0.22">300</text>
<line x1="860.30" y1="245.00" x2="860.30" y2="267.50" stroke="#1e1e1e" stroke-width="0.9" />
<line x1="860.30" y1="267.50" x2="875.80" y2="272.50" stroke="#1e1e1e" stroke-width="0.9" />
<text x="856.96" y="360.00" font-size="10.3" fill="#1a1a1a" text-anchor="middle" transform="rotate(-90 856.96 360.00)" stroke="#1a1a1a" stroke-width="0.22">200</text>
<line x1="861.80" y1="350.25" x2="861.80" y2="372.75" stroke="#1e1e1e" stroke-width="0.9" />
<line x1="861.80" y1="372.75" x2="875.80" y2="377.00" stroke="#1e1e1e" stroke-width="0.9" />
<line x1="876.00" y1="241.30" x2="888.00" y2="241.30" stroke="#1e1e1e" stroke-width="0.9" />
<line x1="876.00" y1="268.30" x2="888.00" y2="268.30" stroke="#1e1e1e" stroke-width="0.9" />
<line x1="876.00" y1="307.50" x2="888.00" y2="307.50" stroke="#1e1e1e" stroke-width="0.9" />
<line x1="876.00" y1="370.50" x2="888.00" y2="370.50" stroke="#1e1e1e" stroke-width="0.9" />
<text x="875.75" y="251.00" font-size="10.3" fill="#1a1a1a" stroke="#1a1a1a" stroke-width="0.22">380</text>
<line x1="873.50" y1="254.60" x2="895.25" y2="254.60" stroke="#1e1e1e" stroke-width="0.9" />
<line x1="895.25" y1="254.60" x2="899.00" y2="233.00" stroke="#1e1e1e" stroke-width="0.9" />
<line x1="792.70" y1="232.30" x2="938.00" y2="232.30" stroke="#1e1e1e" stroke-width="0.9" />
<line x1="794.40" y1="236.60" x2="803.00" y2="228.00" stroke="#111" stroke-width="1.1" />
<line x1="886.50" y1="236.60" x2="895.10" y2="228.00" stroke="#111" stroke-width="1.1" />
<line x1="899.70" y1="236.60" x2="908.30" y2="228.00" stroke="#111" stroke-width="1.1" />
<line x1="927.70" y1="236.60" x2="936.30" y2="228.00" stroke="#111" stroke-width="1.1" />
<text x="845.75" y="228.50" font-size="10.3" fill="#1a1a1a" text-anchor="middle" stroke="#1a1a1a" stroke-width="0.22">3060</text>
<text x="911.00" y="227.00" font-size="10.3" fill="#1a1a1a" stroke="#1a1a1a" stroke-width="0.22">900</text>
<line x1="904.20" y1="220.00" x2="904.20" y2="236.00" stroke="#1e1e1e" stroke-width="0.9" />
<line x1="792.50" y1="330.50" x2="896.00" y2="330.50" stroke="#1e1e1e" stroke-width="0.9" />
<line x1="794.20" y1="334.80" x2="802.80" y2="326.20" stroke="#111" stroke-width="1.1" />
<line x1="887.70" y1="334.80" x2="896.30" y2="326.20" stroke="#111" stroke-width="1.1" />
<text x="845.75" y="327.50" font-size="10.3" fill="#1a1a1a" text-anchor="middle" stroke="#1a1a1a" stroke-width="0.22">3060</text>
<line x1="792.50" y1="395.50" x2="896.00" y2="395.50" stroke="#1e1e1e" stroke-width="0.9" />
<line x1="794.20" y1="399.80" x2="802.80" y2="391.20" stroke="#111" stroke-width="1.1" />
<line x1="840.70" y1="399.80" x2="849.30" y2="391.20" stroke="#111" stroke-width="1.1" />
<line x1="887.70" y1="399.80" x2="896.30" y2="391.20" stroke="#111" stroke-width="1.1" />
<text x="826.25" y="392.50" font-size="10.3" fill="#1a1a1a" text-anchor="middle" stroke="#1a1a1a" stroke-width="0.22">1500</text>
<text x="867.50" y="392.50" font-size="10.3" fill="#1a1a1a" text-anchor="middle" stroke="#1a1a1a" stroke-width="0.22">1460</text>
<text x="859.25" y="403.70" font-size="10.3" fill="#1a1a1a" stroke="#1a1a1a" stroke-width="0.22">100</text>
<line x1="855.50" y1="407.30" x2="878.00" y2="407.30" stroke="#1e1e1e" stroke-width="0.9" />
<line x1="855.50" y1="407.30" x2="845.00" y2="395.50" stroke="#1e1e1e" stroke-width="0.9" />
<text x="904.21" y="386.50" font-size="10.3" fill="#1a1a1a" text-anchor="middle" transform="rotate(-90 904.21 386.50)" stroke="#1a1a1a" stroke-width="0.22">100</text>
<text x="916.96" y="379.75" font-size="10.3" fill="#1a1a1a" text-anchor="middle" transform="rotate(-90 916.96 379.75)" stroke="#1a1a1a" stroke-width="0.22">1570</text>
<line x1="906.50" y1="376.00" x2="906.50" y2="397.00" stroke="#1e1e1e" stroke-width="0.9" />
<line x1="906.50" y1="397.00" x2="920.00" y2="409.00" stroke="#1e1e1e" stroke-width="0.9" />
<line x1="792.50" y1="425.50" x2="938.00" y2="425.50" stroke="#1e1e1e" stroke-width="0.9" />
<line x1="794.20" y1="429.80" x2="802.80" y2="421.20" stroke="#111" stroke-width="1.1" />
<line x1="864.70" y1="429.80" x2="873.30" y2="421.20" stroke="#111" stroke-width="1.1" />
<line x1="886.45" y1="429.80" x2="895.05" y2="421.20" stroke="#111" stroke-width="1.1" />
<line x1="892.45" y1="429.80" x2="901.05" y2="421.20" stroke="#111" stroke-width="1.1" />
<line x1="922.60" y1="429.80" x2="931.20" y2="421.20" stroke="#111" stroke-width="1.1" />
<line x1="927.70" y1="429.80" x2="936.30" y2="421.20" stroke="#111" stroke-width="1.1" />
<text x="843.50" y="421.75" font-size="10.3" fill="#1a1a1a" text-anchor="middle" stroke="#1a1a1a" stroke-width="0.22">2360</text>
<text x="872.00" y="421.75" font-size="10.3" fill="#1a1a1a" stroke="#1a1a1a" stroke-width="0.22">700</text>
<text x="901.25" y="421.75" font-size="10.3" fill="#1a1a1a" stroke="#1a1a1a" stroke-width="0.22">1000</text>
<text x="935.75" y="421.75" font-size="10.3" fill="#1a1a1a" stroke="#1a1a1a" stroke-width="0.22">140</text>
<line x1="869.00" y1="413.00" x2="869.00" y2="427.00" stroke="#1e1e1e" stroke-width="0.9" />
<line x1="890.75" y1="413.00" x2="890.75" y2="427.00" stroke="#1e1e1e" stroke-width="0.9" />
<line x1="896.75" y1="413.00" x2="896.75" y2="427.00" stroke="#1e1e1e" stroke-width="0.9" />
<line x1="927.50" y1="413.00" x2="927.50" y2="427.00" stroke="#1e1e1e" stroke-width="0.9" />
<text x="862.25" y="451.75" font-size="10.3" fill="#1a1a1a" stroke="#1a1a1a" stroke-width="0.22">240</text>
<line x1="859.25" y1="455.35" x2="881.75" y2="455.35" stroke="#1e1e1e" stroke-width="0.9" />
<line x1="881.75" y1="455.35" x2="893.75" y2="428.00" stroke="#1e1e1e" stroke-width="0.9" />
<line x1="798.70" y1="442.00" x2="938.00" y2="442.00" stroke="#1e1e1e" stroke-width="0.9" />
<line x1="794.40" y1="446.30" x2="803.00" y2="437.70" stroke="#111" stroke-width="1.1" />
<line x1="927.70" y1="446.30" x2="936.30" y2="437.70" stroke="#111" stroke-width="1.1" />
<text x="863.75" y="439.00" font-size="10.3" fill="#1a1a1a" text-anchor="middle" stroke="#1a1a1a" stroke-width="0.22">4440</text>
<line x1="919.30" y1="180.00" x2="919.30" y2="541.00" stroke="#1e1e1e" stroke-width="0.9" />
<line x1="915.00" y1="179.90" x2="923.60" y2="188.50" stroke="#111" stroke-width="1.1" />
<line x1="915.00" y1="314.40" x2="923.60" y2="323.00" stroke="#111" stroke-width="1.1" />
<line x1="915.00" y1="355.00" x2="923.60" y2="363.60" stroke="#111" stroke-width="1.1" />
<line x1="915.00" y1="405.40" x2="923.60" y2="414.00" stroke="#111" stroke-width="1.1" />
<line x1="915.00" y1="533.90" x2="923.60" y2="542.50" stroke="#111" stroke-width="1.1" />
<text x="916.96" y="253.25" font-size="10.3" fill="#1a1a1a" text-anchor="middle" transform="rotate(-90 916.96 253.25)" stroke="#1a1a1a" stroke-width="0.22">4480</text>
<text x="917.41" y="339.30" font-size="10.3" fill="#1a1a1a" text-anchor="middle" transform="rotate(-90 917.41 339.30)" stroke="#1a1a1a" stroke-width="0.22">1350</text>
<text x="916.96" y="474.25" font-size="10.3" fill="#1a1a1a" text-anchor="middle" transform="rotate(-90 916.96 474.25)" stroke="#1a1a1a" stroke-width="0.22">4260</text>
<line x1="919.30" y1="318.70" x2="929.00" y2="318.70" stroke="#1e1e1e" stroke-width="0.9" />
<line x1="938.70" y1="318.70" x2="964.00" y2="318.70" stroke="#1e1e1e" stroke-width="0.9" />
<line x1="919.30" y1="359.30" x2="929.00" y2="359.30" stroke="#1e1e1e" stroke-width="0.9" />
<line x1="938.70" y1="359.30" x2="964.00" y2="359.30" stroke="#1e1e1e" stroke-width="0.9" />
<line x1="960.70" y1="176.40" x2="960.70" y2="545.70" stroke="#1e1e1e" stroke-width="0.9" />
<line x1="956.40" y1="176.10" x2="965.00" y2="184.70" stroke="#111" stroke-width="1.1" />
<line x1="956.40" y1="314.40" x2="965.00" y2="323.00" stroke="#111" stroke-width="1.1" />
<line x1="956.40" y1="355.00" x2="965.00" y2="363.60" stroke="#111" stroke-width="1.1" />
<line x1="956.40" y1="537.40" x2="965.00" y2="546.00" stroke="#111" stroke-width="1.1" />
<text x="957.46" y="248.75" font-size="10.3" fill="#1a1a1a" text-anchor="middle" transform="rotate(-90 957.46 248.75)" stroke="#1a1a1a" stroke-width="0.22">4600</text>
<text x="958.41" y="339.30" font-size="10.3" fill="#1a1a1a" text-anchor="middle" transform="rotate(-90 958.41 339.30)" stroke="#1a1a1a" stroke-width="0.22">1350</text>
<text x="957.46" y="450.00" font-size="10.3" fill="#1a1a1a" text-anchor="middle" transform="rotate(-90 957.46 450.00)" stroke="#1a1a1a" stroke-width="0.22">6050</text>
<line x1="938.70" y1="180.40" x2="964.00" y2="180.40" stroke="#1e1e1e" stroke-width="0.9" />
<line x1="938.70" y1="541.70" x2="964.00" y2="541.70" stroke="#1e1e1e" stroke-width="0.9" />
<line x1="1000.70" y1="305.60" x2="1000.70" y2="372.70" stroke="#1e1e1e" stroke-width="0.9" />
<line x1="996.40" y1="305.30" x2="1005.00" y2="313.90" stroke="#111" stroke-width="1.1" />
<line x1="996.40" y1="364.40" x2="1005.00" y2="373.00" stroke="#111" stroke-width="1.1" />
<text x="997.10" y="339.30" font-size="10.3" fill="#1a1a1a" text-anchor="middle" transform="rotate(-90 997.10 339.30)" stroke="#1a1a1a" stroke-width="0.22">1950</text>
<line x1="983.30" y1="309.60" x2="1004.00" y2="309.60" stroke="#1e1e1e" stroke-width="0.9" />
<line x1="983.30" y1="368.70" x2="1004.00" y2="368.70" stroke="#1e1e1e" stroke-width="0.9" />
<line x1="929.50" y1="291.60" x2="986.70" y2="291.60" stroke="#1e1e1e" stroke-width="0.9" />
<line x1="931.20" y1="295.90" x2="939.80" y2="287.30" stroke="#111" stroke-width="1.1" />
<line x1="976.40" y1="295.90" x2="985.00" y2="287.30" stroke="#111" stroke-width="1.1" />
<text x="960.00" y="288.60" font-size="10.3" fill="#1a1a1a" text-anchor="middle" stroke="#1a1a1a" stroke-width="0.22">1500</text>
<line x1="980.70" y1="290.00" x2="980.70" y2="306.00" stroke="#1e1e1e" stroke-width="0.9" />
<rect x="355.50" y="349.50" width="39.50" height="14.25" stroke="#d0d0d0" stroke-width="0.8" fill="#fff" />
<text x="375.25" y="360.45" font-size="10.3" fill="#1a1a1a" text-anchor="middle" stroke="#1a1a1a" stroke-width="0.22">±0.000</text>
<rect x="602.50" y="368.00" width="38.75" height="13.25" stroke="#d0d0d0" stroke-width="0.8" fill="#fff" />
<text x="621.88" y="377.95" font-size="10.3" fill="#1a1a1a" text-anchor="middle" stroke="#1a1a1a" stroke-width="0.22">±0.000</text>
<rect x="843.75" y="463.00" width="39.25" height="13.25" stroke="#d0d0d0" stroke-width="0.8" fill="#fff" />
<text x="863.38" y="472.95" font-size="10.3" fill="#1a1a1a" text-anchor="middle" stroke="#1a1a1a" stroke-width="0.22">±0.000</text>
</svg></body></html>
